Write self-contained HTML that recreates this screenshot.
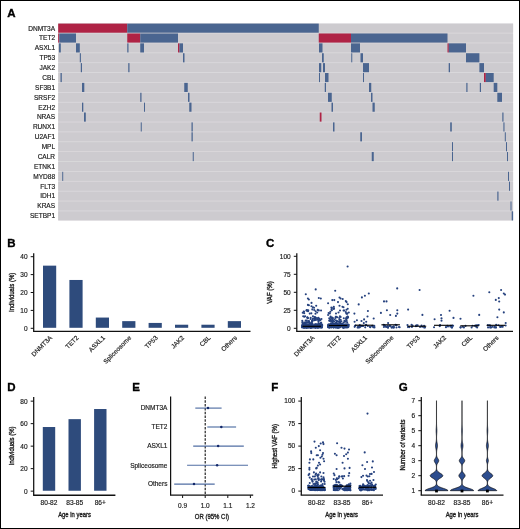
<!DOCTYPE html><html><head><meta charset="utf-8"><style>html,body{margin:0;padding:0;background:#fff;}svg{display:block;will-change:transform;}text{font-family:"Liberation Sans",sans-serif;}.t{fill:#1a1a1a;stroke:#1a1a1a;stroke-width:0.17px;}.tt{stroke-width:0.36px;}.p{fill:#000;stroke:#000;stroke-width:0.35px;font-weight:bold;font-size:11.5px;}</style></head><body>
<svg width="520" height="529" viewBox="0 0 520 529">
<rect x="0" y="0" width="520" height="529" fill="#fff"/>
<rect x="0.5" y="0.5" width="519" height="528" fill="none" stroke="#000" stroke-width="1"/>
<text x="7.3" y="16.9" class="p">A</text>
<rect x="58.2" y="23.6" width="454.90" height="196.82" fill="#dddbde"/>
<rect x="58.2" y="23.60" width="454.90" height="9.1" fill="#cdcbcf"/>
<text x="55.10" y="30.50" font-size="6.55" text-anchor="end" class="t">DNMT3A</text>
<rect x="58.2" y="33.48" width="454.90" height="9.1" fill="#cdcbcf"/>
<text x="55.10" y="40.38" font-size="6.55" text-anchor="end" class="t">TET2</text>
<rect x="58.2" y="43.36" width="454.90" height="9.1" fill="#cdcbcf"/>
<text x="55.10" y="50.26" font-size="6.55" text-anchor="end" class="t">ASXL1</text>
<rect x="58.2" y="53.24" width="454.90" height="9.1" fill="#cdcbcf"/>
<text x="55.10" y="60.14" font-size="6.55" text-anchor="end" class="t">TP53</text>
<rect x="58.2" y="63.12" width="454.90" height="9.1" fill="#cdcbcf"/>
<text x="55.10" y="70.02" font-size="6.55" text-anchor="end" class="t">JAK2</text>
<rect x="58.2" y="73.00" width="454.90" height="9.1" fill="#cdcbcf"/>
<text x="55.10" y="79.90" font-size="6.55" text-anchor="end" class="t">CBL</text>
<rect x="58.2" y="82.88" width="454.90" height="9.1" fill="#cdcbcf"/>
<text x="55.10" y="89.78" font-size="6.55" text-anchor="end" class="t">SF3B1</text>
<rect x="58.2" y="92.76" width="454.90" height="9.1" fill="#cdcbcf"/>
<text x="55.10" y="99.66" font-size="6.55" text-anchor="end" class="t">SRSF2</text>
<rect x="58.2" y="102.64" width="454.90" height="9.1" fill="#cdcbcf"/>
<text x="55.10" y="109.54" font-size="6.55" text-anchor="end" class="t">EZH2</text>
<rect x="58.2" y="112.52" width="454.90" height="9.1" fill="#cdcbcf"/>
<text x="55.10" y="119.42" font-size="6.55" text-anchor="end" class="t">NRAS</text>
<rect x="58.2" y="122.40" width="454.90" height="9.1" fill="#cdcbcf"/>
<text x="55.10" y="129.30" font-size="6.55" text-anchor="end" class="t">RUNX1</text>
<rect x="58.2" y="132.28" width="454.90" height="9.1" fill="#cdcbcf"/>
<text x="55.10" y="139.18" font-size="6.55" text-anchor="end" class="t">U2AF1</text>
<rect x="58.2" y="142.16" width="454.90" height="9.1" fill="#cdcbcf"/>
<text x="55.10" y="149.06" font-size="6.55" text-anchor="end" class="t">MPL</text>
<rect x="58.2" y="152.04" width="454.90" height="9.1" fill="#cdcbcf"/>
<text x="55.10" y="158.94" font-size="6.55" text-anchor="end" class="t">CALR</text>
<rect x="58.2" y="161.92" width="454.90" height="9.1" fill="#cdcbcf"/>
<text x="55.10" y="168.82" font-size="6.55" text-anchor="end" class="t">ETNK1</text>
<rect x="58.2" y="171.80" width="454.90" height="9.1" fill="#cdcbcf"/>
<text x="55.10" y="178.70" font-size="6.55" text-anchor="end" class="t">MYD88</text>
<rect x="58.2" y="181.68" width="454.90" height="9.1" fill="#cdcbcf"/>
<text x="55.10" y="188.58" font-size="6.55" text-anchor="end" class="t">FLT3</text>
<rect x="58.2" y="191.56" width="454.90" height="9.1" fill="#cdcbcf"/>
<text x="55.10" y="198.46" font-size="6.55" text-anchor="end" class="t">IDH1</text>
<rect x="58.2" y="201.44" width="454.90" height="9.1" fill="#cdcbcf"/>
<text x="55.10" y="208.34" font-size="6.55" text-anchor="end" class="t">KRAS</text>
<rect x="58.2" y="211.32" width="454.90" height="9.1" fill="#cdcbcf"/>
<text x="55.10" y="218.22" font-size="6.55" text-anchor="end" class="t">SETBP1</text>
<rect x="58.2" y="23.60" width="69.05" height="9.1" fill="#af2345"/>
<rect x="127.25" y="23.60" width="191.50" height="9.1" fill="#4a6590"/>
<rect x="58.2" y="33.48" width="1.10" height="9.1" fill="#af2345"/>
<rect x="59.3" y="33.48" width="16.70" height="9.1" fill="#4a6590"/>
<rect x="127.25" y="33.48" width="13.00" height="9.1" fill="#af2345"/>
<rect x="140.25" y="33.48" width="37.75" height="9.1" fill="#4a6590"/>
<rect x="318.75" y="33.48" width="32.25" height="9.1" fill="#af2345"/>
<rect x="351" y="33.48" width="96.50" height="9.1" fill="#4a6590"/>
<rect x="59.0" y="43.36" width="1.80" height="9.1" fill="#4a6590"/>
<rect x="76" y="43.36" width="3.80" height="9.1" fill="#4a6590"/>
<rect x="127.25" y="43.36" width="1.25" height="9.1" fill="#4a6590"/>
<rect x="140.25" y="43.36" width="3.75" height="9.1" fill="#4a6590"/>
<rect x="178" y="43.36" width="1.50" height="9.1" fill="#af2345"/>
<rect x="179.5" y="43.36" width="3.50" height="9.1" fill="#4a6590"/>
<rect x="319" y="43.36" width="3.50" height="9.1" fill="#4a6590"/>
<rect x="351" y="43.36" width="9.00" height="9.1" fill="#4a6590"/>
<rect x="447.5" y="43.36" width="1.30" height="9.1" fill="#af2345"/>
<rect x="448.8" y="43.36" width="17.20" height="9.1" fill="#4a6590"/>
<rect x="79.8" y="53.24" width="1.10" height="9.1" fill="#4a6590"/>
<rect x="183" y="53.24" width="1.50" height="9.1" fill="#4a6590"/>
<rect x="322" y="53.24" width="1.75" height="9.1" fill="#4a6590"/>
<rect x="351.25" y="53.24" width="1.00" height="9.1" fill="#4a6590"/>
<rect x="360.5" y="53.24" width="2.50" height="9.1" fill="#4a6590"/>
<rect x="466" y="53.24" width="13.40" height="9.1" fill="#4a6590"/>
<rect x="80.8" y="63.12" width="1.20" height="9.1" fill="#4a6590"/>
<rect x="128.25" y="63.12" width="1.25" height="9.1" fill="#4a6590"/>
<rect x="319" y="63.12" width="2.25" height="9.1" fill="#4a6590"/>
<rect x="323" y="63.12" width="2.00" height="9.1" fill="#4a6590"/>
<rect x="363" y="63.12" width="6.00" height="9.1" fill="#4a6590"/>
<rect x="448.7" y="63.12" width="1.30" height="9.1" fill="#4a6590"/>
<rect x="479.4" y="63.12" width="4.60" height="9.1" fill="#4a6590"/>
<rect x="60.5" y="73.00" width="1.30" height="9.1" fill="#4a6590"/>
<rect x="319" y="73.00" width="1.00" height="9.1" fill="#4a6590"/>
<rect x="325" y="73.00" width="3.50" height="9.1" fill="#4a6590"/>
<rect x="363" y="73.00" width="1.00" height="9.1" fill="#4a6590"/>
<rect x="484" y="73.00" width="1.80" height="9.1" fill="#af2345"/>
<rect x="485.8" y="73.00" width="7.90" height="9.1" fill="#4a6590"/>
<rect x="82" y="82.88" width="2.30" height="9.1" fill="#4a6590"/>
<rect x="184.25" y="82.88" width="3.50" height="9.1" fill="#4a6590"/>
<rect x="324.75" y="82.88" width="1.25" height="9.1" fill="#4a6590"/>
<rect x="369" y="82.88" width="2.25" height="9.1" fill="#4a6590"/>
<rect x="466.3" y="82.88" width="1.20" height="9.1" fill="#4a6590"/>
<rect x="479.8" y="82.88" width="1.20" height="9.1" fill="#4a6590"/>
<rect x="493.7" y="82.88" width="3.60" height="9.1" fill="#4a6590"/>
<rect x="140.25" y="92.76" width="1.25" height="9.1" fill="#4a6590"/>
<rect x="188" y="92.76" width="1.50" height="9.1" fill="#4a6590"/>
<rect x="328" y="92.76" width="3.75" height="9.1" fill="#4a6590"/>
<rect x="371" y="92.76" width="1.50" height="9.1" fill="#4a6590"/>
<rect x="497.3" y="92.76" width="4.70" height="9.1" fill="#4a6590"/>
<rect x="82" y="102.64" width="1.30" height="9.1" fill="#4a6590"/>
<rect x="144" y="102.64" width="1.00" height="9.1" fill="#4a6590"/>
<rect x="189.25" y="102.64" width="2.25" height="9.1" fill="#4a6590"/>
<rect x="331.5" y="102.64" width="1.50" height="9.1" fill="#4a6590"/>
<rect x="372.5" y="102.64" width="2.25" height="9.1" fill="#4a6590"/>
<rect x="84" y="112.52" width="1.80" height="9.1" fill="#4a6590"/>
<rect x="319.75" y="112.52" width="1.75" height="9.1" fill="#af2345"/>
<rect x="502.3" y="112.52" width="1.20" height="9.1" fill="#4a6590"/>
<rect x="140.75" y="122.40" width="1.00" height="9.1" fill="#4a6590"/>
<rect x="191.5" y="122.40" width="1.25" height="9.1" fill="#4a6590"/>
<rect x="333" y="122.40" width="1.50" height="9.1" fill="#4a6590"/>
<rect x="450.2" y="122.40" width="1.60" height="9.1" fill="#4a6590"/>
<rect x="503.4" y="122.40" width="1.10" height="9.1" fill="#4a6590"/>
<rect x="191.5" y="132.28" width="1.25" height="9.1" fill="#4a6590"/>
<rect x="360.25" y="132.28" width="1.75" height="9.1" fill="#4a6590"/>
<rect x="504.8" y="132.28" width="1.00" height="9.1" fill="#4a6590"/>
<rect x="452" y="142.16" width="1.00" height="9.1" fill="#4a6590"/>
<rect x="506" y="142.16" width="1.00" height="9.1" fill="#4a6590"/>
<rect x="192.75" y="152.04" width="1.00" height="9.1" fill="#4a6590"/>
<rect x="371.75" y="152.04" width="2.00" height="9.1" fill="#4a6590"/>
<rect x="452" y="152.04" width="1.00" height="9.1" fill="#4a6590"/>
<rect x="507" y="152.04" width="1.00" height="9.1" fill="#4a6590"/>
<rect x="62.25" y="171.80" width="0.95" height="9.1" fill="#4a6590"/>
<rect x="508" y="171.80" width="1.00" height="9.1" fill="#4a6590"/>
<rect x="509" y="181.68" width="1.00" height="9.1" fill="#4a6590"/>
<rect x="497.3" y="191.56" width="1.20" height="9.1" fill="#4a6590"/>
<rect x="510.5" y="201.44" width="1.00" height="9.1" fill="#4a6590"/>
<rect x="511.7" y="211.32" width="1.40" height="9.1" fill="#4a6590"/>
<text x="7.3" y="246.9" class="p">B</text>
<line x1="33.7" y1="253.2" x2="33.7" y2="331.4" stroke="#111" stroke-width="1.25"/>
<line x1="30.700000000000003" y1="328.30" x2="33.7" y2="328.30" stroke="#111" stroke-width="1"/>
<text x="27.60" y="330.65" font-size="6.5" text-anchor="end" class="t">0</text>
<line x1="30.700000000000003" y1="310.40" x2="33.7" y2="310.40" stroke="#111" stroke-width="1"/>
<text x="27.60" y="312.75" font-size="6.5" text-anchor="end" class="t">10</text>
<line x1="30.700000000000003" y1="292.50" x2="33.7" y2="292.50" stroke="#111" stroke-width="1"/>
<text x="27.60" y="294.85" font-size="6.5" text-anchor="end" class="t">20</text>
<line x1="30.700000000000003" y1="274.60" x2="33.7" y2="274.60" stroke="#111" stroke-width="1"/>
<text x="27.60" y="276.95" font-size="6.5" text-anchor="end" class="t">30</text>
<line x1="30.700000000000003" y1="256.70" x2="33.7" y2="256.70" stroke="#111" stroke-width="1"/>
<text x="27.60" y="259.05" font-size="6.5" text-anchor="end" class="t">40</text>
<line x1="33.1" y1="331.4" x2="250.5" y2="331.4" stroke="#111" stroke-width="1.3"/>
<text x="0" y="0" font-size="7.8" text-anchor="middle" class="t tt" transform="translate(13.5,292.4) rotate(-90)" textLength="39.2" lengthAdjust="spacingAndGlyphs">Individuals (%)</text>
<rect x="43.00" y="265.65" width="13.2" height="62.15" fill="#2e4b7c"/>
<rect x="69.40" y="279.97" width="13.2" height="47.83" fill="#2e4b7c"/>
<rect x="95.80" y="317.56" width="13.2" height="10.24" fill="#2e4b7c"/>
<rect x="122.20" y="321.14" width="13.2" height="6.66" fill="#2e4b7c"/>
<rect x="148.60" y="322.93" width="13.2" height="4.87" fill="#2e4b7c"/>
<rect x="175.00" y="324.72" width="13.2" height="3.08" fill="#2e4b7c"/>
<rect x="201.40" y="324.72" width="13.2" height="3.08" fill="#2e4b7c"/>
<rect x="227.80" y="321.14" width="13.2" height="6.66" fill="#2e4b7c"/>
<text x="0" y="0" font-size="6.4" text-anchor="end" class="t" transform="translate(52.60,338.3) rotate(-45)">DNMT3A</text>
<text x="0" y="0" font-size="6.4" text-anchor="end" class="t" transform="translate(79.00,338.3) rotate(-45)">TET2</text>
<text x="0" y="0" font-size="6.4" text-anchor="end" class="t" transform="translate(105.40,338.3) rotate(-45)">ASXL1</text>
<text x="0" y="0" font-size="6.4" text-anchor="end" class="t" transform="translate(131.80,338.3) rotate(-45)">Spliceosome</text>
<text x="0" y="0" font-size="6.4" text-anchor="end" class="t" transform="translate(158.20,338.3) rotate(-45)">TP53</text>
<text x="0" y="0" font-size="6.4" text-anchor="end" class="t" transform="translate(184.60,338.3) rotate(-45)">JAK2</text>
<text x="0" y="0" font-size="6.4" text-anchor="end" class="t" transform="translate(211.00,338.3) rotate(-45)">CBL</text>
<text x="0" y="0" font-size="6.4" text-anchor="end" class="t" transform="translate(237.40,338.3) rotate(-45)">Others</text>
<text x="265.9" y="246.9" class="p">C</text>
<line x1="296.8" y1="253.2" x2="296.8" y2="331.4" stroke="#111" stroke-width="1.25"/>
<line x1="293.8" y1="328.30" x2="296.8" y2="328.30" stroke="#111" stroke-width="1"/>
<text x="290.70" y="330.65" font-size="6.5" text-anchor="end" class="t">0</text>
<line x1="293.8" y1="310.30" x2="296.8" y2="310.30" stroke="#111" stroke-width="1"/>
<text x="290.70" y="312.65" font-size="6.5" text-anchor="end" class="t">25</text>
<line x1="293.8" y1="292.30" x2="296.8" y2="292.30" stroke="#111" stroke-width="1"/>
<text x="290.70" y="294.65" font-size="6.5" text-anchor="end" class="t">50</text>
<line x1="293.8" y1="274.30" x2="296.8" y2="274.30" stroke="#111" stroke-width="1"/>
<text x="290.70" y="276.65" font-size="6.5" text-anchor="end" class="t">75</text>
<line x1="293.8" y1="256.30" x2="296.8" y2="256.30" stroke="#111" stroke-width="1"/>
<text x="290.70" y="258.65" font-size="6.5" text-anchor="end" class="t">100</text>
<line x1="296.2" y1="331.4" x2="513" y2="331.4" stroke="#111" stroke-width="1.3"/>
<text x="0" y="0" font-size="7.8" text-anchor="middle" class="t tt" transform="translate(272.3,292.5) rotate(-90)" textLength="22.5" lengthAdjust="spacingAndGlyphs">VAF (%)</text>
<text x="0" y="0" font-size="6.4" text-anchor="end" class="t" transform="translate(315.00,338.3) rotate(-45)">DNMT3A</text>
<text x="0" y="0" font-size="6.4" text-anchor="end" class="t" transform="translate(341.30,338.3) rotate(-45)">TET2</text>
<text x="0" y="0" font-size="6.4" text-anchor="end" class="t" transform="translate(367.60,338.3) rotate(-45)">ASXL1</text>
<text x="0" y="0" font-size="6.4" text-anchor="end" class="t" transform="translate(393.90,338.3) rotate(-45)">Spliceosome</text>
<text x="0" y="0" font-size="6.4" text-anchor="end" class="t" transform="translate(420.20,338.3) rotate(-45)">TP53</text>
<text x="0" y="0" font-size="6.4" text-anchor="end" class="t" transform="translate(446.50,338.3) rotate(-45)">JAK2</text>
<text x="0" y="0" font-size="6.4" text-anchor="end" class="t" transform="translate(472.80,338.3) rotate(-45)">CBL</text>
<text x="0" y="0" font-size="6.4" text-anchor="end" class="t" transform="translate(499.10,338.3) rotate(-45)">Others</text>
<circle cx="315.70" cy="289.40" r="1.05" fill="#25417e"/>
<circle cx="305.80" cy="294.30" r="1.05" fill="#25417e"/>
<circle cx="307.90" cy="298.50" r="1.05" fill="#25417e"/>
<circle cx="308.90" cy="299.50" r="1.05" fill="#25417e"/>
<circle cx="318.80" cy="298.00" r="1.05" fill="#25417e"/>
<circle cx="320.80" cy="298.50" r="1.05" fill="#25417e"/>
<circle cx="311.50" cy="302.90" r="1.05" fill="#25417e"/>
<circle cx="307.90" cy="304.90" r="1.05" fill="#25417e"/>
<circle cx="308.90" cy="305.20" r="1.05" fill="#25417e"/>
<circle cx="316.20" cy="305.80" r="1.05" fill="#25417e"/>
<circle cx="311.50" cy="306.30" r="1.05" fill="#25417e"/>
<circle cx="313.00" cy="307.30" r="1.05" fill="#25417e"/>
<circle cx="314.10" cy="307.80" r="1.05" fill="#25417e"/>
<circle cx="312.30" cy="309.40" r="1.05" fill="#25417e"/>
<circle cx="306.80" cy="310.10" r="1.05" fill="#25417e"/>
<circle cx="317.70" cy="309.90" r="1.05" fill="#25417e"/>
<circle cx="318.80" cy="310.40" r="1.05" fill="#25417e"/>
<circle cx="317.20" cy="312.50" r="1.05" fill="#25417e"/>
<circle cx="304.20" cy="313.20" r="1.05" fill="#25417e"/>
<circle cx="303.20" cy="316.20" r="1.05" fill="#25417e"/>
<circle cx="347.60" cy="266.50" r="1.05" fill="#25417e"/>
<circle cx="335.20" cy="290.70" r="1.05" fill="#25417e"/>
<circle cx="328.10" cy="303.20" r="1.05" fill="#25417e"/>
<circle cx="332.30" cy="300.10" r="1.05" fill="#25417e"/>
<circle cx="334.30" cy="300.10" r="1.05" fill="#25417e"/>
<circle cx="338.00" cy="302.10" r="1.05" fill="#25417e"/>
<circle cx="339.50" cy="297.50" r="1.05" fill="#25417e"/>
<circle cx="340.60" cy="298.50" r="1.05" fill="#25417e"/>
<circle cx="342.70" cy="299.00" r="1.05" fill="#25417e"/>
<circle cx="345.80" cy="301.10" r="1.05" fill="#25417e"/>
<circle cx="346.60" cy="302.10" r="1.05" fill="#25417e"/>
<circle cx="347.80" cy="304.20" r="1.05" fill="#25417e"/>
<circle cx="333.80" cy="306.80" r="1.05" fill="#25417e"/>
<circle cx="333.80" cy="308.90" r="1.05" fill="#25417e"/>
<circle cx="339.50" cy="305.80" r="1.05" fill="#25417e"/>
<circle cx="342.50" cy="306.80" r="1.05" fill="#25417e"/>
<circle cx="343.50" cy="307.30" r="1.05" fill="#25417e"/>
<circle cx="340.00" cy="310.50" r="1.05" fill="#25417e"/>
<circle cx="338.50" cy="312.50" r="1.05" fill="#25417e"/>
<circle cx="328.60" cy="313.00" r="1.05" fill="#25417e"/>
<circle cx="328.10" cy="315.00" r="1.05" fill="#25417e"/>
<circle cx="345.80" cy="312.00" r="1.05" fill="#25417e"/>
<circle cx="347.30" cy="313.50" r="1.05" fill="#25417e"/>
<circle cx="348.80" cy="312.50" r="1.05" fill="#25417e"/>
<circle cx="368.80" cy="293.50" r="1.05" fill="#25417e"/>
<circle cx="364.90" cy="295.80" r="1.05" fill="#25417e"/>
<circle cx="361.90" cy="297.40" r="1.05" fill="#25417e"/>
<circle cx="358.70" cy="304.40" r="1.05" fill="#25417e"/>
<circle cx="354.40" cy="313.60" r="1.05" fill="#25417e"/>
<circle cx="367.90" cy="311.00" r="1.05" fill="#25417e"/>
<circle cx="367.50" cy="316.50" r="1.05" fill="#25417e"/>
<circle cx="373.70" cy="318.50" r="1.05" fill="#25417e"/>
<circle cx="356.90" cy="320.20" r="1.05" fill="#25417e"/>
<circle cx="354.60" cy="321.70" r="1.05" fill="#25417e"/>
<circle cx="361.50" cy="321.00" r="1.05" fill="#25417e"/>
<circle cx="364.10" cy="319.40" r="1.05" fill="#25417e"/>
<circle cx="366.20" cy="321.70" r="1.05" fill="#25417e"/>
<circle cx="363.80" cy="323.10" r="1.05" fill="#25417e"/>
<circle cx="397.20" cy="288.40" r="1.05" fill="#25417e"/>
<circle cx="384.00" cy="301.40" r="1.05" fill="#25417e"/>
<circle cx="386.50" cy="301.40" r="1.05" fill="#25417e"/>
<circle cx="380.90" cy="312.90" r="1.05" fill="#25417e"/>
<circle cx="386.90" cy="310.20" r="1.05" fill="#25417e"/>
<circle cx="390.20" cy="315.00" r="1.05" fill="#25417e"/>
<circle cx="397.30" cy="310.20" r="1.05" fill="#25417e"/>
<circle cx="397.30" cy="313.60" r="1.05" fill="#25417e"/>
<circle cx="395.90" cy="315.90" r="1.05" fill="#25417e"/>
<circle cx="388.10" cy="323.10" r="1.05" fill="#25417e"/>
<circle cx="408.10" cy="309.60" r="1.05" fill="#25417e"/>
<circle cx="419.60" cy="290.00" r="1.05" fill="#25417e"/>
<circle cx="422.40" cy="314.90" r="1.05" fill="#25417e"/>
<circle cx="434.60" cy="319.30" r="1.05" fill="#25417e"/>
<circle cx="441.00" cy="315.00" r="1.05" fill="#25417e"/>
<circle cx="441.50" cy="318.40" r="1.05" fill="#25417e"/>
<circle cx="441.50" cy="320.70" r="1.05" fill="#25417e"/>
<circle cx="449.60" cy="310.80" r="1.05" fill="#25417e"/>
<circle cx="453.50" cy="317.90" r="1.05" fill="#25417e"/>
<circle cx="460.50" cy="318.80" r="1.05" fill="#25417e"/>
<circle cx="473.40" cy="295.80" r="1.05" fill="#25417e"/>
<circle cx="479.20" cy="314.90" r="1.05" fill="#25417e"/>
<circle cx="489.30" cy="292.30" r="1.05" fill="#25417e"/>
<circle cx="501.10" cy="290.00" r="1.05" fill="#25417e"/>
<circle cx="503.80" cy="293.50" r="1.05" fill="#25417e"/>
<circle cx="505.00" cy="294.60" r="1.05" fill="#25417e"/>
<circle cx="495.80" cy="299.90" r="1.05" fill="#25417e"/>
<circle cx="498.80" cy="298.10" r="1.05" fill="#25417e"/>
<circle cx="499.20" cy="301.50" r="1.05" fill="#25417e"/>
<circle cx="499.20" cy="309.60" r="1.05" fill="#25417e"/>
<circle cx="503.80" cy="312.40" r="1.05" fill="#25417e"/>
<circle cx="497.40" cy="317.20" r="1.05" fill="#25417e"/>
<circle cx="505.70" cy="323.00" r="1.05" fill="#25417e"/>
<circle cx="304.81" cy="326.83" r="1.05" fill="#25417e"/>
<circle cx="303.19" cy="325.73" r="1.05" fill="#25417e"/>
<circle cx="309.23" cy="326.14" r="1.05" fill="#25417e"/>
<circle cx="312.15" cy="327.50" r="1.05" fill="#25417e"/>
<circle cx="310.63" cy="327.53" r="1.05" fill="#25417e"/>
<circle cx="303.57" cy="327.48" r="1.05" fill="#25417e"/>
<circle cx="318.73" cy="326.52" r="1.05" fill="#25417e"/>
<circle cx="306.30" cy="327.37" r="1.05" fill="#25417e"/>
<circle cx="321.22" cy="325.81" r="1.05" fill="#25417e"/>
<circle cx="309.87" cy="325.99" r="1.05" fill="#25417e"/>
<circle cx="302.66" cy="324.44" r="1.05" fill="#25417e"/>
<circle cx="307.67" cy="324.92" r="1.05" fill="#25417e"/>
<circle cx="304.13" cy="327.32" r="1.05" fill="#25417e"/>
<circle cx="318.51" cy="326.88" r="1.05" fill="#25417e"/>
<circle cx="313.68" cy="327.23" r="1.05" fill="#25417e"/>
<circle cx="309.37" cy="325.77" r="1.05" fill="#25417e"/>
<circle cx="302.99" cy="326.10" r="1.05" fill="#25417e"/>
<circle cx="305.94" cy="327.50" r="1.05" fill="#25417e"/>
<circle cx="310.51" cy="325.62" r="1.05" fill="#25417e"/>
<circle cx="313.76" cy="326.86" r="1.05" fill="#25417e"/>
<circle cx="307.88" cy="326.42" r="1.05" fill="#25417e"/>
<circle cx="316.10" cy="325.18" r="1.05" fill="#25417e"/>
<circle cx="313.53" cy="327.06" r="1.05" fill="#25417e"/>
<circle cx="319.73" cy="326.18" r="1.05" fill="#25417e"/>
<circle cx="307.63" cy="325.43" r="1.05" fill="#25417e"/>
<circle cx="304.13" cy="324.42" r="1.05" fill="#25417e"/>
<circle cx="317.30" cy="326.54" r="1.05" fill="#25417e"/>
<circle cx="311.77" cy="327.30" r="1.05" fill="#25417e"/>
<circle cx="315.47" cy="327.53" r="1.05" fill="#25417e"/>
<circle cx="313.50" cy="325.29" r="1.05" fill="#25417e"/>
<circle cx="308.16" cy="324.85" r="1.05" fill="#25417e"/>
<circle cx="313.94" cy="325.56" r="1.05" fill="#25417e"/>
<circle cx="311.10" cy="325.98" r="1.05" fill="#25417e"/>
<circle cx="321.16" cy="325.00" r="1.05" fill="#25417e"/>
<circle cx="315.38" cy="326.35" r="1.05" fill="#25417e"/>
<circle cx="316.15" cy="327.50" r="1.05" fill="#25417e"/>
<circle cx="322.16" cy="325.74" r="1.05" fill="#25417e"/>
<circle cx="307.56" cy="325.07" r="1.05" fill="#25417e"/>
<circle cx="315.47" cy="326.64" r="1.05" fill="#25417e"/>
<circle cx="311.21" cy="327.56" r="1.05" fill="#25417e"/>
<circle cx="304.11" cy="327.26" r="1.05" fill="#25417e"/>
<circle cx="317.53" cy="327.50" r="1.05" fill="#25417e"/>
<circle cx="306.80" cy="327.35" r="1.05" fill="#25417e"/>
<circle cx="319.65" cy="326.62" r="1.05" fill="#25417e"/>
<circle cx="310.95" cy="327.46" r="1.05" fill="#25417e"/>
<circle cx="319.90" cy="326.09" r="1.05" fill="#25417e"/>
<circle cx="319.50" cy="325.08" r="1.05" fill="#25417e"/>
<circle cx="310.26" cy="326.97" r="1.05" fill="#25417e"/>
<circle cx="319.91" cy="326.73" r="1.05" fill="#25417e"/>
<circle cx="304.81" cy="324.52" r="1.05" fill="#25417e"/>
<circle cx="306.48" cy="327.24" r="1.05" fill="#25417e"/>
<circle cx="311.69" cy="327.09" r="1.05" fill="#25417e"/>
<circle cx="307.11" cy="325.95" r="1.05" fill="#25417e"/>
<circle cx="310.33" cy="327.58" r="1.05" fill="#25417e"/>
<circle cx="313.37" cy="326.69" r="1.05" fill="#25417e"/>
<circle cx="315.92" cy="324.54" r="1.05" fill="#25417e"/>
<circle cx="314.42" cy="326.21" r="1.05" fill="#25417e"/>
<circle cx="302.81" cy="325.63" r="1.05" fill="#25417e"/>
<circle cx="317.77" cy="324.76" r="1.05" fill="#25417e"/>
<circle cx="318.14" cy="324.86" r="1.05" fill="#25417e"/>
<circle cx="309.92" cy="326.62" r="1.05" fill="#25417e"/>
<circle cx="314.77" cy="327.41" r="1.05" fill="#25417e"/>
<circle cx="303.09" cy="327.49" r="1.05" fill="#25417e"/>
<circle cx="305.04" cy="327.16" r="1.05" fill="#25417e"/>
<circle cx="302.78" cy="326.78" r="1.05" fill="#25417e"/>
<circle cx="304.82" cy="327.58" r="1.05" fill="#25417e"/>
<circle cx="309.19" cy="327.41" r="1.05" fill="#25417e"/>
<circle cx="319.71" cy="327.55" r="1.05" fill="#25417e"/>
<circle cx="304.76" cy="325.86" r="1.05" fill="#25417e"/>
<circle cx="308.86" cy="327.04" r="1.05" fill="#25417e"/>
<circle cx="304.23" cy="326.71" r="1.05" fill="#25417e"/>
<circle cx="322.16" cy="324.96" r="1.05" fill="#25417e"/>
<circle cx="311.67" cy="326.38" r="1.05" fill="#25417e"/>
<circle cx="303.81" cy="327.45" r="1.05" fill="#25417e"/>
<circle cx="307.15" cy="326.77" r="1.05" fill="#25417e"/>
<circle cx="305.03" cy="325.04" r="1.05" fill="#25417e"/>
<circle cx="321.29" cy="327.56" r="1.05" fill="#25417e"/>
<circle cx="304.72" cy="326.17" r="1.05" fill="#25417e"/>
<circle cx="302.26" cy="326.11" r="1.05" fill="#25417e"/>
<circle cx="321.86" cy="326.17" r="1.05" fill="#25417e"/>
<circle cx="316.04" cy="324.90" r="1.05" fill="#25417e"/>
<circle cx="309.25" cy="327.01" r="1.05" fill="#25417e"/>
<circle cx="317.60" cy="327.26" r="1.05" fill="#25417e"/>
<circle cx="317.75" cy="326.15" r="1.05" fill="#25417e"/>
<circle cx="306.29" cy="326.81" r="1.05" fill="#25417e"/>
<circle cx="321.99" cy="325.11" r="1.05" fill="#25417e"/>
<circle cx="318.31" cy="324.95" r="1.05" fill="#25417e"/>
<circle cx="316.94" cy="325.08" r="1.05" fill="#25417e"/>
<circle cx="312.36" cy="327.11" r="1.05" fill="#25417e"/>
<circle cx="302.30" cy="326.74" r="1.05" fill="#25417e"/>
<circle cx="307.46" cy="327.55" r="1.05" fill="#25417e"/>
<circle cx="315.97" cy="327.02" r="1.05" fill="#25417e"/>
<circle cx="310.91" cy="324.52" r="1.05" fill="#25417e"/>
<circle cx="322.05" cy="324.60" r="1.05" fill="#25417e"/>
<circle cx="309.21" cy="324.53" r="1.05" fill="#25417e"/>
<circle cx="306.37" cy="327.13" r="1.05" fill="#25417e"/>
<circle cx="305.91" cy="327.19" r="1.05" fill="#25417e"/>
<circle cx="320.25" cy="325.82" r="1.05" fill="#25417e"/>
<circle cx="311.58" cy="325.00" r="1.05" fill="#25417e"/>
<circle cx="318.17" cy="325.72" r="1.05" fill="#25417e"/>
<circle cx="315.31" cy="327.45" r="1.05" fill="#25417e"/>
<circle cx="317.82" cy="324.71" r="1.05" fill="#25417e"/>
<circle cx="311.55" cy="325.35" r="1.05" fill="#25417e"/>
<circle cx="317.96" cy="327.24" r="1.05" fill="#25417e"/>
<circle cx="318.20" cy="326.81" r="1.05" fill="#25417e"/>
<circle cx="309.85" cy="324.46" r="1.05" fill="#25417e"/>
<circle cx="321.20" cy="326.59" r="1.05" fill="#25417e"/>
<circle cx="305.20" cy="325.45" r="1.05" fill="#25417e"/>
<circle cx="304.81" cy="327.36" r="1.05" fill="#25417e"/>
<circle cx="318.31" cy="324.73" r="1.05" fill="#25417e"/>
<circle cx="318.73" cy="327.31" r="1.05" fill="#25417e"/>
<circle cx="315.24" cy="324.42" r="1.05" fill="#25417e"/>
<circle cx="313.00" cy="326.75" r="1.05" fill="#25417e"/>
<circle cx="301.99" cy="327.35" r="1.05" fill="#25417e"/>
<circle cx="315.08" cy="324.46" r="1.05" fill="#25417e"/>
<circle cx="320.93" cy="326.17" r="1.05" fill="#25417e"/>
<circle cx="319.66" cy="326.49" r="1.05" fill="#25417e"/>
<circle cx="306.05" cy="325.05" r="1.05" fill="#25417e"/>
<circle cx="307.74" cy="327.04" r="1.05" fill="#25417e"/>
<circle cx="313.78" cy="327.07" r="1.05" fill="#25417e"/>
<circle cx="310.33" cy="327.02" r="1.05" fill="#25417e"/>
<circle cx="320.45" cy="327.35" r="1.05" fill="#25417e"/>
<circle cx="311.14" cy="326.74" r="1.05" fill="#25417e"/>
<circle cx="320.33" cy="325.97" r="1.05" fill="#25417e"/>
<circle cx="320.61" cy="326.53" r="1.05" fill="#25417e"/>
<circle cx="312.66" cy="326.26" r="1.05" fill="#25417e"/>
<circle cx="302.09" cy="326.18" r="1.05" fill="#25417e"/>
<circle cx="305.47" cy="326.47" r="1.05" fill="#25417e"/>
<circle cx="318.16" cy="327.58" r="1.05" fill="#25417e"/>
<circle cx="311.45" cy="327.25" r="1.05" fill="#25417e"/>
<circle cx="313.16" cy="325.45" r="1.05" fill="#25417e"/>
<circle cx="312.38" cy="326.83" r="1.05" fill="#25417e"/>
<circle cx="317.86" cy="326.07" r="1.05" fill="#25417e"/>
<circle cx="313.24" cy="327.40" r="1.05" fill="#25417e"/>
<circle cx="307.40" cy="327.05" r="1.05" fill="#25417e"/>
<circle cx="312.16" cy="325.26" r="1.05" fill="#25417e"/>
<circle cx="317.36" cy="326.05" r="1.05" fill="#25417e"/>
<circle cx="310.83" cy="324.70" r="1.05" fill="#25417e"/>
<circle cx="312.11" cy="325.87" r="1.05" fill="#25417e"/>
<circle cx="315.97" cy="326.22" r="1.05" fill="#25417e"/>
<circle cx="312.69" cy="326.42" r="1.05" fill="#25417e"/>
<circle cx="321.09" cy="326.34" r="1.05" fill="#25417e"/>
<circle cx="319.76" cy="325.55" r="1.05" fill="#25417e"/>
<circle cx="307.05" cy="324.58" r="1.05" fill="#25417e"/>
<circle cx="321.13" cy="326.06" r="1.05" fill="#25417e"/>
<circle cx="304.52" cy="325.00" r="1.05" fill="#25417e"/>
<circle cx="310.81" cy="327.37" r="1.05" fill="#25417e"/>
<circle cx="306.66" cy="327.47" r="1.05" fill="#25417e"/>
<circle cx="315.49" cy="327.47" r="1.05" fill="#25417e"/>
<circle cx="320.18" cy="325.22" r="1.05" fill="#25417e"/>
<circle cx="316.45" cy="327.29" r="1.05" fill="#25417e"/>
<circle cx="304.65" cy="325.69" r="1.05" fill="#25417e"/>
<circle cx="321.63" cy="324.82" r="1.05" fill="#25417e"/>
<circle cx="321.32" cy="327.13" r="1.05" fill="#25417e"/>
<circle cx="311.74" cy="326.60" r="1.05" fill="#25417e"/>
<circle cx="318.85" cy="324.38" r="1.05" fill="#25417e"/>
<circle cx="310.59" cy="327.28" r="1.05" fill="#25417e"/>
<circle cx="308.69" cy="326.21" r="1.05" fill="#25417e"/>
<circle cx="308.26" cy="327.19" r="1.05" fill="#25417e"/>
<circle cx="302.10" cy="325.46" r="1.05" fill="#25417e"/>
<circle cx="310.77" cy="326.08" r="1.05" fill="#25417e"/>
<circle cx="308.53" cy="327.56" r="1.05" fill="#25417e"/>
<circle cx="312.25" cy="325.83" r="1.05" fill="#25417e"/>
<circle cx="321.99" cy="327.49" r="1.05" fill="#25417e"/>
<circle cx="321.72" cy="325.20" r="1.05" fill="#25417e"/>
<circle cx="307.17" cy="327.41" r="1.05" fill="#25417e"/>
<circle cx="317.75" cy="327.53" r="1.05" fill="#25417e"/>
<circle cx="304.37" cy="326.99" r="1.05" fill="#25417e"/>
<circle cx="320.48" cy="326.52" r="1.05" fill="#25417e"/>
<circle cx="307.03" cy="325.08" r="1.05" fill="#25417e"/>
<circle cx="320.22" cy="323.63" r="1.05" fill="#25417e"/>
<circle cx="315.93" cy="320.04" r="1.05" fill="#25417e"/>
<circle cx="303.33" cy="324.09" r="1.05" fill="#25417e"/>
<circle cx="310.54" cy="318.97" r="1.05" fill="#25417e"/>
<circle cx="320.59" cy="324.22" r="1.05" fill="#25417e"/>
<circle cx="317.91" cy="319.46" r="1.05" fill="#25417e"/>
<circle cx="318.98" cy="324.14" r="1.05" fill="#25417e"/>
<circle cx="319.11" cy="324.26" r="1.05" fill="#25417e"/>
<circle cx="308.85" cy="321.08" r="1.05" fill="#25417e"/>
<circle cx="320.36" cy="320.20" r="1.05" fill="#25417e"/>
<circle cx="304.73" cy="322.67" r="1.05" fill="#25417e"/>
<circle cx="306.87" cy="320.43" r="1.05" fill="#25417e"/>
<circle cx="305.36" cy="323.94" r="1.05" fill="#25417e"/>
<circle cx="306.15" cy="324.38" r="1.05" fill="#25417e"/>
<circle cx="308.18" cy="322.30" r="1.05" fill="#25417e"/>
<circle cx="307.88" cy="318.32" r="1.05" fill="#25417e"/>
<circle cx="305.69" cy="320.67" r="1.05" fill="#25417e"/>
<circle cx="302.56" cy="322.00" r="1.05" fill="#25417e"/>
<circle cx="302.50" cy="322.82" r="1.05" fill="#25417e"/>
<circle cx="313.00" cy="318.56" r="1.05" fill="#25417e"/>
<circle cx="311.51" cy="323.31" r="1.05" fill="#25417e"/>
<circle cx="304.28" cy="316.68" r="1.05" fill="#25417e"/>
<circle cx="310.67" cy="317.76" r="1.05" fill="#25417e"/>
<circle cx="318.56" cy="320.71" r="1.05" fill="#25417e"/>
<circle cx="312.13" cy="321.61" r="1.05" fill="#25417e"/>
<circle cx="321.46" cy="318.98" r="1.05" fill="#25417e"/>
<circle cx="318.51" cy="322.04" r="1.05" fill="#25417e"/>
<circle cx="314.67" cy="318.80" r="1.05" fill="#25417e"/>
<circle cx="309.01" cy="321.51" r="1.05" fill="#25417e"/>
<circle cx="304.74" cy="324.35" r="1.05" fill="#25417e"/>
<circle cx="316.72" cy="324.23" r="1.05" fill="#25417e"/>
<circle cx="305.40" cy="322.77" r="1.05" fill="#25417e"/>
<circle cx="318.69" cy="324.13" r="1.05" fill="#25417e"/>
<circle cx="315.34" cy="317.28" r="1.05" fill="#25417e"/>
<circle cx="306.95" cy="322.55" r="1.05" fill="#25417e"/>
<circle cx="311.21" cy="322.46" r="1.05" fill="#25417e"/>
<circle cx="310.94" cy="323.57" r="1.05" fill="#25417e"/>
<circle cx="321.05" cy="322.71" r="1.05" fill="#25417e"/>
<circle cx="312.92" cy="316.32" r="1.05" fill="#25417e"/>
<circle cx="321.13" cy="322.87" r="1.05" fill="#25417e"/>
<circle cx="309.19" cy="322.32" r="1.05" fill="#25417e"/>
<circle cx="309.68" cy="324.70" r="1.05" fill="#25417e"/>
<circle cx="312.05" cy="320.89" r="1.05" fill="#25417e"/>
<circle cx="312.09" cy="323.22" r="1.05" fill="#25417e"/>
<circle cx="307.38" cy="324.67" r="1.05" fill="#25417e"/>
<circle cx="310.03" cy="324.09" r="1.05" fill="#25417e"/>
<circle cx="302.64" cy="324.44" r="1.05" fill="#25417e"/>
<circle cx="306.76" cy="322.37" r="1.05" fill="#25417e"/>
<circle cx="312.57" cy="319.90" r="1.05" fill="#25417e"/>
<circle cx="315.09" cy="318.40" r="1.05" fill="#25417e"/>
<circle cx="319.43" cy="318.72" r="1.05" fill="#25417e"/>
<circle cx="308.59" cy="321.64" r="1.05" fill="#25417e"/>
<circle cx="305.13" cy="316.21" r="1.05" fill="#25417e"/>
<circle cx="314.81" cy="318.64" r="1.05" fill="#25417e"/>
<circle cx="318.57" cy="324.42" r="1.05" fill="#25417e"/>
<circle cx="314.50" cy="317.08" r="1.05" fill="#25417e"/>
<circle cx="318.12" cy="318.55" r="1.05" fill="#25417e"/>
<circle cx="312.47" cy="323.71" r="1.05" fill="#25417e"/>
<circle cx="318.56" cy="320.63" r="1.05" fill="#25417e"/>
<circle cx="318.40" cy="317.90" r="1.05" fill="#25417e"/>
<circle cx="319.70" cy="319.92" r="1.05" fill="#25417e"/>
<circle cx="315.79" cy="319.02" r="1.05" fill="#25417e"/>
<circle cx="302.81" cy="322.98" r="1.05" fill="#25417e"/>
<circle cx="309.27" cy="323.76" r="1.05" fill="#25417e"/>
<circle cx="318.58" cy="323.98" r="1.05" fill="#25417e"/>
<circle cx="314.50" cy="320.15" r="1.05" fill="#25417e"/>
<circle cx="315.54" cy="319.54" r="1.05" fill="#25417e"/>
<circle cx="302.26" cy="320.76" r="1.05" fill="#25417e"/>
<circle cx="316.87" cy="317.96" r="1.05" fill="#25417e"/>
<circle cx="312.69" cy="320.64" r="1.05" fill="#25417e"/>
<circle cx="303.75" cy="311.52" r="1.05" fill="#25417e"/>
<circle cx="307.29" cy="310.48" r="1.05" fill="#25417e"/>
<circle cx="307.55" cy="317.83" r="1.05" fill="#25417e"/>
<circle cx="306.40" cy="310.58" r="1.05" fill="#25417e"/>
<circle cx="321.04" cy="310.43" r="1.05" fill="#25417e"/>
<circle cx="309.77" cy="313.61" r="1.05" fill="#25417e"/>
<circle cx="315.49" cy="313.80" r="1.05" fill="#25417e"/>
<circle cx="314.22" cy="310.06" r="1.05" fill="#25417e"/>
<circle cx="303.97" cy="311.73" r="1.05" fill="#25417e"/>
<circle cx="307.32" cy="317.26" r="1.05" fill="#25417e"/>
<circle cx="308.28" cy="310.39" r="1.05" fill="#25417e"/>
<circle cx="302.74" cy="312.70" r="1.05" fill="#25417e"/>
<circle cx="307.61" cy="317.92" r="1.05" fill="#25417e"/>
<circle cx="315.65" cy="311.35" r="1.05" fill="#25417e"/>
<circle cx="308.03" cy="311.30" r="1.05" fill="#25417e"/>
<circle cx="311.33" cy="313.34" r="1.05" fill="#25417e"/>
<circle cx="330.44" cy="326.38" r="1.05" fill="#25417e"/>
<circle cx="332.10" cy="324.78" r="1.05" fill="#25417e"/>
<circle cx="347.29" cy="324.43" r="1.05" fill="#25417e"/>
<circle cx="337.45" cy="327.56" r="1.05" fill="#25417e"/>
<circle cx="347.94" cy="325.08" r="1.05" fill="#25417e"/>
<circle cx="333.53" cy="326.43" r="1.05" fill="#25417e"/>
<circle cx="347.48" cy="327.15" r="1.05" fill="#25417e"/>
<circle cx="339.98" cy="327.15" r="1.05" fill="#25417e"/>
<circle cx="338.80" cy="327.32" r="1.05" fill="#25417e"/>
<circle cx="330.73" cy="324.54" r="1.05" fill="#25417e"/>
<circle cx="338.48" cy="325.08" r="1.05" fill="#25417e"/>
<circle cx="342.49" cy="324.81" r="1.05" fill="#25417e"/>
<circle cx="346.49" cy="327.10" r="1.05" fill="#25417e"/>
<circle cx="328.51" cy="326.31" r="1.05" fill="#25417e"/>
<circle cx="338.13" cy="327.58" r="1.05" fill="#25417e"/>
<circle cx="334.22" cy="326.43" r="1.05" fill="#25417e"/>
<circle cx="335.09" cy="327.33" r="1.05" fill="#25417e"/>
<circle cx="345.31" cy="326.86" r="1.05" fill="#25417e"/>
<circle cx="343.47" cy="327.58" r="1.05" fill="#25417e"/>
<circle cx="330.47" cy="325.00" r="1.05" fill="#25417e"/>
<circle cx="342.69" cy="324.65" r="1.05" fill="#25417e"/>
<circle cx="333.97" cy="324.75" r="1.05" fill="#25417e"/>
<circle cx="336.09" cy="326.68" r="1.05" fill="#25417e"/>
<circle cx="340.14" cy="324.35" r="1.05" fill="#25417e"/>
<circle cx="336.82" cy="326.72" r="1.05" fill="#25417e"/>
<circle cx="328.99" cy="326.97" r="1.05" fill="#25417e"/>
<circle cx="345.19" cy="327.41" r="1.05" fill="#25417e"/>
<circle cx="347.27" cy="326.94" r="1.05" fill="#25417e"/>
<circle cx="333.47" cy="327.05" r="1.05" fill="#25417e"/>
<circle cx="331.91" cy="326.23" r="1.05" fill="#25417e"/>
<circle cx="347.70" cy="326.68" r="1.05" fill="#25417e"/>
<circle cx="344.73" cy="324.82" r="1.05" fill="#25417e"/>
<circle cx="346.82" cy="325.80" r="1.05" fill="#25417e"/>
<circle cx="339.31" cy="324.59" r="1.05" fill="#25417e"/>
<circle cx="329.02" cy="325.47" r="1.05" fill="#25417e"/>
<circle cx="337.29" cy="325.42" r="1.05" fill="#25417e"/>
<circle cx="341.28" cy="325.34" r="1.05" fill="#25417e"/>
<circle cx="329.01" cy="326.94" r="1.05" fill="#25417e"/>
<circle cx="330.62" cy="324.64" r="1.05" fill="#25417e"/>
<circle cx="335.08" cy="326.36" r="1.05" fill="#25417e"/>
<circle cx="343.22" cy="326.91" r="1.05" fill="#25417e"/>
<circle cx="333.36" cy="324.44" r="1.05" fill="#25417e"/>
<circle cx="334.20" cy="325.71" r="1.05" fill="#25417e"/>
<circle cx="336.12" cy="326.06" r="1.05" fill="#25417e"/>
<circle cx="331.33" cy="327.26" r="1.05" fill="#25417e"/>
<circle cx="346.66" cy="327.16" r="1.05" fill="#25417e"/>
<circle cx="332.53" cy="326.27" r="1.05" fill="#25417e"/>
<circle cx="348.53" cy="324.73" r="1.05" fill="#25417e"/>
<circle cx="330.88" cy="326.43" r="1.05" fill="#25417e"/>
<circle cx="329.87" cy="327.20" r="1.05" fill="#25417e"/>
<circle cx="329.88" cy="326.78" r="1.05" fill="#25417e"/>
<circle cx="333.32" cy="327.08" r="1.05" fill="#25417e"/>
<circle cx="346.28" cy="326.02" r="1.05" fill="#25417e"/>
<circle cx="336.50" cy="325.35" r="1.05" fill="#25417e"/>
<circle cx="338.80" cy="326.55" r="1.05" fill="#25417e"/>
<circle cx="334.97" cy="326.67" r="1.05" fill="#25417e"/>
<circle cx="333.72" cy="327.49" r="1.05" fill="#25417e"/>
<circle cx="330.59" cy="324.48" r="1.05" fill="#25417e"/>
<circle cx="340.97" cy="326.25" r="1.05" fill="#25417e"/>
<circle cx="332.45" cy="324.91" r="1.05" fill="#25417e"/>
<circle cx="333.12" cy="326.99" r="1.05" fill="#25417e"/>
<circle cx="337.18" cy="326.60" r="1.05" fill="#25417e"/>
<circle cx="345.48" cy="324.53" r="1.05" fill="#25417e"/>
<circle cx="328.45" cy="324.86" r="1.05" fill="#25417e"/>
<circle cx="342.62" cy="327.54" r="1.05" fill="#25417e"/>
<circle cx="337.75" cy="324.77" r="1.05" fill="#25417e"/>
<circle cx="328.00" cy="325.96" r="1.05" fill="#25417e"/>
<circle cx="347.09" cy="326.62" r="1.05" fill="#25417e"/>
<circle cx="345.62" cy="325.05" r="1.05" fill="#25417e"/>
<circle cx="333.12" cy="324.46" r="1.05" fill="#25417e"/>
<circle cx="331.18" cy="327.40" r="1.05" fill="#25417e"/>
<circle cx="342.05" cy="326.19" r="1.05" fill="#25417e"/>
<circle cx="342.87" cy="324.58" r="1.05" fill="#25417e"/>
<circle cx="343.75" cy="325.74" r="1.05" fill="#25417e"/>
<circle cx="339.36" cy="326.41" r="1.05" fill="#25417e"/>
<circle cx="344.12" cy="327.53" r="1.05" fill="#25417e"/>
<circle cx="346.95" cy="327.09" r="1.05" fill="#25417e"/>
<circle cx="334.26" cy="325.75" r="1.05" fill="#25417e"/>
<circle cx="333.19" cy="327.36" r="1.05" fill="#25417e"/>
<circle cx="342.39" cy="325.78" r="1.05" fill="#25417e"/>
<circle cx="329.45" cy="327.39" r="1.05" fill="#25417e"/>
<circle cx="340.01" cy="326.18" r="1.05" fill="#25417e"/>
<circle cx="332.61" cy="326.63" r="1.05" fill="#25417e"/>
<circle cx="328.22" cy="325.91" r="1.05" fill="#25417e"/>
<circle cx="337.49" cy="326.90" r="1.05" fill="#25417e"/>
<circle cx="341.28" cy="324.51" r="1.05" fill="#25417e"/>
<circle cx="337.79" cy="324.82" r="1.05" fill="#25417e"/>
<circle cx="333.09" cy="327.09" r="1.05" fill="#25417e"/>
<circle cx="342.52" cy="324.50" r="1.05" fill="#25417e"/>
<circle cx="328.45" cy="326.88" r="1.05" fill="#25417e"/>
<circle cx="341.89" cy="326.27" r="1.05" fill="#25417e"/>
<circle cx="333.30" cy="326.53" r="1.05" fill="#25417e"/>
<circle cx="347.06" cy="325.66" r="1.05" fill="#25417e"/>
<circle cx="328.70" cy="327.11" r="1.05" fill="#25417e"/>
<circle cx="336.66" cy="326.79" r="1.05" fill="#25417e"/>
<circle cx="332.08" cy="325.61" r="1.05" fill="#25417e"/>
<circle cx="343.23" cy="325.17" r="1.05" fill="#25417e"/>
<circle cx="332.23" cy="326.25" r="1.05" fill="#25417e"/>
<circle cx="334.42" cy="324.47" r="1.05" fill="#25417e"/>
<circle cx="332.75" cy="325.08" r="1.05" fill="#25417e"/>
<circle cx="343.67" cy="327.12" r="1.05" fill="#25417e"/>
<circle cx="347.61" cy="326.92" r="1.05" fill="#25417e"/>
<circle cx="331.86" cy="326.28" r="1.05" fill="#25417e"/>
<circle cx="336.59" cy="327.12" r="1.05" fill="#25417e"/>
<circle cx="347.54" cy="325.67" r="1.05" fill="#25417e"/>
<circle cx="336.11" cy="327.31" r="1.05" fill="#25417e"/>
<circle cx="348.07" cy="327.15" r="1.05" fill="#25417e"/>
<circle cx="329.07" cy="327.32" r="1.05" fill="#25417e"/>
<circle cx="336.10" cy="327.50" r="1.05" fill="#25417e"/>
<circle cx="346.20" cy="324.76" r="1.05" fill="#25417e"/>
<circle cx="348.55" cy="325.42" r="1.05" fill="#25417e"/>
<circle cx="334.78" cy="324.63" r="1.05" fill="#25417e"/>
<circle cx="347.28" cy="327.22" r="1.05" fill="#25417e"/>
<circle cx="328.66" cy="325.37" r="1.05" fill="#25417e"/>
<circle cx="335.80" cy="325.68" r="1.05" fill="#25417e"/>
<circle cx="334.83" cy="326.68" r="1.05" fill="#25417e"/>
<circle cx="328.06" cy="327.26" r="1.05" fill="#25417e"/>
<circle cx="335.24" cy="326.96" r="1.05" fill="#25417e"/>
<circle cx="330.55" cy="324.53" r="1.05" fill="#25417e"/>
<circle cx="332.27" cy="324.49" r="1.05" fill="#25417e"/>
<circle cx="344.92" cy="326.73" r="1.05" fill="#25417e"/>
<circle cx="336.91" cy="325.07" r="1.05" fill="#25417e"/>
<circle cx="337.75" cy="327.52" r="1.05" fill="#25417e"/>
<circle cx="346.94" cy="326.68" r="1.05" fill="#25417e"/>
<circle cx="335.50" cy="327.20" r="1.05" fill="#25417e"/>
<circle cx="328.62" cy="324.77" r="1.05" fill="#25417e"/>
<circle cx="344.72" cy="326.56" r="1.05" fill="#25417e"/>
<circle cx="328.84" cy="325.29" r="1.05" fill="#25417e"/>
<circle cx="329.29" cy="327.54" r="1.05" fill="#25417e"/>
<circle cx="333.29" cy="324.67" r="1.05" fill="#25417e"/>
<circle cx="346.51" cy="325.36" r="1.05" fill="#25417e"/>
<circle cx="333.61" cy="326.79" r="1.05" fill="#25417e"/>
<circle cx="340.71" cy="324.52" r="1.05" fill="#25417e"/>
<circle cx="342.76" cy="327.01" r="1.05" fill="#25417e"/>
<circle cx="333.68" cy="326.85" r="1.05" fill="#25417e"/>
<circle cx="343.57" cy="327.58" r="1.05" fill="#25417e"/>
<circle cx="341.06" cy="324.69" r="1.05" fill="#25417e"/>
<circle cx="328.50" cy="324.58" r="1.05" fill="#25417e"/>
<circle cx="337.79" cy="327.09" r="1.05" fill="#25417e"/>
<circle cx="347.65" cy="324.52" r="1.05" fill="#25417e"/>
<circle cx="333.17" cy="326.64" r="1.05" fill="#25417e"/>
<circle cx="338.17" cy="326.50" r="1.05" fill="#25417e"/>
<circle cx="331.77" cy="324.64" r="1.05" fill="#25417e"/>
<circle cx="343.21" cy="325.15" r="1.05" fill="#25417e"/>
<circle cx="343.92" cy="325.07" r="1.05" fill="#25417e"/>
<circle cx="334.75" cy="325.89" r="1.05" fill="#25417e"/>
<circle cx="335.45" cy="326.84" r="1.05" fill="#25417e"/>
<circle cx="329.63" cy="325.23" r="1.05" fill="#25417e"/>
<circle cx="343.51" cy="327.19" r="1.05" fill="#25417e"/>
<circle cx="329.33" cy="327.05" r="1.05" fill="#25417e"/>
<circle cx="339.38" cy="327.54" r="1.05" fill="#25417e"/>
<circle cx="348.19" cy="326.83" r="1.05" fill="#25417e"/>
<circle cx="348.35" cy="324.82" r="1.05" fill="#25417e"/>
<circle cx="329.73" cy="327.00" r="1.05" fill="#25417e"/>
<circle cx="338.27" cy="327.43" r="1.05" fill="#25417e"/>
<circle cx="337.21" cy="325.51" r="1.05" fill="#25417e"/>
<circle cx="336.59" cy="327.09" r="1.05" fill="#25417e"/>
<circle cx="341.89" cy="325.84" r="1.05" fill="#25417e"/>
<circle cx="345.45" cy="325.36" r="1.05" fill="#25417e"/>
<circle cx="330.50" cy="325.68" r="1.05" fill="#25417e"/>
<circle cx="334.05" cy="324.99" r="1.05" fill="#25417e"/>
<circle cx="335.68" cy="326.03" r="1.05" fill="#25417e"/>
<circle cx="332.10" cy="325.40" r="1.05" fill="#25417e"/>
<circle cx="333.05" cy="327.05" r="1.05" fill="#25417e"/>
<circle cx="346.21" cy="327.30" r="1.05" fill="#25417e"/>
<circle cx="334.72" cy="325.99" r="1.05" fill="#25417e"/>
<circle cx="348.44" cy="326.61" r="1.05" fill="#25417e"/>
<circle cx="332.77" cy="326.24" r="1.05" fill="#25417e"/>
<circle cx="341.46" cy="325.12" r="1.05" fill="#25417e"/>
<circle cx="330.11" cy="324.38" r="1.05" fill="#25417e"/>
<circle cx="344.55" cy="320.89" r="1.05" fill="#25417e"/>
<circle cx="346.42" cy="317.56" r="1.05" fill="#25417e"/>
<circle cx="334.26" cy="324.45" r="1.05" fill="#25417e"/>
<circle cx="332.22" cy="323.87" r="1.05" fill="#25417e"/>
<circle cx="339.93" cy="316.32" r="1.05" fill="#25417e"/>
<circle cx="335.80" cy="316.72" r="1.05" fill="#25417e"/>
<circle cx="337.30" cy="317.32" r="1.05" fill="#25417e"/>
<circle cx="343.74" cy="322.74" r="1.05" fill="#25417e"/>
<circle cx="330.57" cy="316.57" r="1.05" fill="#25417e"/>
<circle cx="340.65" cy="319.81" r="1.05" fill="#25417e"/>
<circle cx="335.73" cy="323.09" r="1.05" fill="#25417e"/>
<circle cx="332.50" cy="323.70" r="1.05" fill="#25417e"/>
<circle cx="340.25" cy="322.78" r="1.05" fill="#25417e"/>
<circle cx="332.49" cy="319.31" r="1.05" fill="#25417e"/>
<circle cx="334.91" cy="324.64" r="1.05" fill="#25417e"/>
<circle cx="332.13" cy="319.06" r="1.05" fill="#25417e"/>
<circle cx="332.49" cy="322.30" r="1.05" fill="#25417e"/>
<circle cx="339.24" cy="317.98" r="1.05" fill="#25417e"/>
<circle cx="330.49" cy="324.29" r="1.05" fill="#25417e"/>
<circle cx="339.28" cy="321.59" r="1.05" fill="#25417e"/>
<circle cx="330.29" cy="319.42" r="1.05" fill="#25417e"/>
<circle cx="342.13" cy="323.52" r="1.05" fill="#25417e"/>
<circle cx="334.05" cy="321.46" r="1.05" fill="#25417e"/>
<circle cx="347.18" cy="322.34" r="1.05" fill="#25417e"/>
<circle cx="339.60" cy="322.30" r="1.05" fill="#25417e"/>
<circle cx="336.66" cy="321.92" r="1.05" fill="#25417e"/>
<circle cx="348.03" cy="317.34" r="1.05" fill="#25417e"/>
<circle cx="332.37" cy="321.86" r="1.05" fill="#25417e"/>
<circle cx="332.49" cy="318.61" r="1.05" fill="#25417e"/>
<circle cx="346.17" cy="324.67" r="1.05" fill="#25417e"/>
<circle cx="344.58" cy="321.34" r="1.05" fill="#25417e"/>
<circle cx="345.80" cy="321.49" r="1.05" fill="#25417e"/>
<circle cx="331.69" cy="321.01" r="1.05" fill="#25417e"/>
<circle cx="339.31" cy="324.62" r="1.05" fill="#25417e"/>
<circle cx="346.33" cy="319.41" r="1.05" fill="#25417e"/>
<circle cx="340.70" cy="324.10" r="1.05" fill="#25417e"/>
<circle cx="338.39" cy="321.80" r="1.05" fill="#25417e"/>
<circle cx="334.05" cy="323.66" r="1.05" fill="#25417e"/>
<circle cx="346.64" cy="320.48" r="1.05" fill="#25417e"/>
<circle cx="338.11" cy="323.95" r="1.05" fill="#25417e"/>
<circle cx="347.45" cy="317.90" r="1.05" fill="#25417e"/>
<circle cx="330.98" cy="323.25" r="1.05" fill="#25417e"/>
<circle cx="347.62" cy="316.60" r="1.05" fill="#25417e"/>
<circle cx="329.55" cy="320.82" r="1.05" fill="#25417e"/>
<circle cx="336.10" cy="316.76" r="1.05" fill="#25417e"/>
<circle cx="340.66" cy="316.97" r="1.05" fill="#25417e"/>
<circle cx="331.64" cy="317.71" r="1.05" fill="#25417e"/>
<circle cx="332.85" cy="318.07" r="1.05" fill="#25417e"/>
<circle cx="345.09" cy="321.51" r="1.05" fill="#25417e"/>
<circle cx="332.09" cy="317.67" r="1.05" fill="#25417e"/>
<circle cx="336.34" cy="323.08" r="1.05" fill="#25417e"/>
<circle cx="336.02" cy="320.51" r="1.05" fill="#25417e"/>
<circle cx="333.34" cy="323.84" r="1.05" fill="#25417e"/>
<circle cx="346.09" cy="318.64" r="1.05" fill="#25417e"/>
<circle cx="339.52" cy="324.44" r="1.05" fill="#25417e"/>
<circle cx="329.25" cy="318.33" r="1.05" fill="#25417e"/>
<circle cx="330.81" cy="317.58" r="1.05" fill="#25417e"/>
<circle cx="339.28" cy="319.78" r="1.05" fill="#25417e"/>
<circle cx="334.50" cy="319.53" r="1.05" fill="#25417e"/>
<circle cx="339.92" cy="321.37" r="1.05" fill="#25417e"/>
<circle cx="341.41" cy="321.32" r="1.05" fill="#25417e"/>
<circle cx="337.09" cy="321.14" r="1.05" fill="#25417e"/>
<circle cx="340.63" cy="324.56" r="1.05" fill="#25417e"/>
<circle cx="333.11" cy="320.76" r="1.05" fill="#25417e"/>
<circle cx="343.79" cy="318.28" r="1.05" fill="#25417e"/>
<circle cx="332.02" cy="321.04" r="1.05" fill="#25417e"/>
<circle cx="330.60" cy="320.91" r="1.05" fill="#25417e"/>
<circle cx="336.94" cy="323.80" r="1.05" fill="#25417e"/>
<circle cx="337.16" cy="324.08" r="1.05" fill="#25417e"/>
<circle cx="329.30" cy="320.58" r="1.05" fill="#25417e"/>
<circle cx="330.36" cy="311.82" r="1.05" fill="#25417e"/>
<circle cx="343.58" cy="310.52" r="1.05" fill="#25417e"/>
<circle cx="329.83" cy="313.40" r="1.05" fill="#25417e"/>
<circle cx="335.98" cy="313.49" r="1.05" fill="#25417e"/>
<circle cx="331.39" cy="307.43" r="1.05" fill="#25417e"/>
<circle cx="347.73" cy="308.79" r="1.05" fill="#25417e"/>
<circle cx="344.28" cy="310.54" r="1.05" fill="#25417e"/>
<circle cx="347.45" cy="316.86" r="1.05" fill="#25417e"/>
<circle cx="346.98" cy="313.64" r="1.05" fill="#25417e"/>
<circle cx="331.94" cy="307.94" r="1.05" fill="#25417e"/>
<circle cx="346.48" cy="309.76" r="1.05" fill="#25417e"/>
<circle cx="335.47" cy="317.89" r="1.05" fill="#25417e"/>
<circle cx="331.82" cy="310.21" r="1.05" fill="#25417e"/>
<circle cx="334.02" cy="308.22" r="1.05" fill="#25417e"/>
<circle cx="331.53" cy="309.38" r="1.05" fill="#25417e"/>
<circle cx="346.28" cy="313.51" r="1.05" fill="#25417e"/>
<circle cx="359.86" cy="327.14" r="1.05" fill="#25417e"/>
<circle cx="360.98" cy="326.31" r="1.05" fill="#25417e"/>
<circle cx="358.24" cy="327.53" r="1.05" fill="#25417e"/>
<circle cx="373.33" cy="327.26" r="1.05" fill="#25417e"/>
<circle cx="372.51" cy="325.77" r="1.05" fill="#25417e"/>
<circle cx="370.30" cy="327.24" r="1.05" fill="#25417e"/>
<circle cx="365.21" cy="327.36" r="1.05" fill="#25417e"/>
<circle cx="361.80" cy="325.91" r="1.05" fill="#25417e"/>
<circle cx="365.70" cy="325.13" r="1.05" fill="#25417e"/>
<circle cx="372.25" cy="326.08" r="1.05" fill="#25417e"/>
<circle cx="374.46" cy="327.39" r="1.05" fill="#25417e"/>
<circle cx="362.49" cy="325.93" r="1.05" fill="#25417e"/>
<circle cx="359.90" cy="325.38" r="1.05" fill="#25417e"/>
<circle cx="366.15" cy="324.73" r="1.05" fill="#25417e"/>
<circle cx="369.89" cy="326.73" r="1.05" fill="#25417e"/>
<circle cx="358.14" cy="326.50" r="1.05" fill="#25417e"/>
<circle cx="355.57" cy="325.56" r="1.05" fill="#25417e"/>
<circle cx="359.67" cy="325.31" r="1.05" fill="#25417e"/>
<circle cx="374.28" cy="325.90" r="1.05" fill="#25417e"/>
<circle cx="367.87" cy="326.06" r="1.05" fill="#25417e"/>
<circle cx="354.64" cy="326.87" r="1.05" fill="#25417e"/>
<circle cx="357.59" cy="327.53" r="1.05" fill="#25417e"/>
<circle cx="363.24" cy="325.97" r="1.05" fill="#25417e"/>
<circle cx="372.51" cy="326.29" r="1.05" fill="#25417e"/>
<circle cx="359.15" cy="327.33" r="1.05" fill="#25417e"/>
<circle cx="355.05" cy="325.85" r="1.05" fill="#25417e"/>
<circle cx="388.00" cy="327.58" r="1.05" fill="#25417e"/>
<circle cx="388.04" cy="327.38" r="1.05" fill="#25417e"/>
<circle cx="392.57" cy="327.10" r="1.05" fill="#25417e"/>
<circle cx="384.98" cy="326.05" r="1.05" fill="#25417e"/>
<circle cx="390.40" cy="325.94" r="1.05" fill="#25417e"/>
<circle cx="399.63" cy="327.32" r="1.05" fill="#25417e"/>
<circle cx="383.89" cy="327.05" r="1.05" fill="#25417e"/>
<circle cx="393.66" cy="327.41" r="1.05" fill="#25417e"/>
<circle cx="396.54" cy="325.14" r="1.05" fill="#25417e"/>
<circle cx="386.18" cy="326.62" r="1.05" fill="#25417e"/>
<circle cx="393.80" cy="327.57" r="1.05" fill="#25417e"/>
<circle cx="387.91" cy="326.14" r="1.05" fill="#25417e"/>
<circle cx="389.78" cy="325.88" r="1.05" fill="#25417e"/>
<circle cx="395.57" cy="324.92" r="1.05" fill="#25417e"/>
<circle cx="398.97" cy="327.04" r="1.05" fill="#25417e"/>
<circle cx="391.53" cy="327.51" r="1.05" fill="#25417e"/>
<circle cx="385.65" cy="326.60" r="1.05" fill="#25417e"/>
<circle cx="396.48" cy="327.48" r="1.05" fill="#25417e"/>
<circle cx="391.92" cy="327.57" r="1.05" fill="#25417e"/>
<circle cx="383.75" cy="324.90" r="1.05" fill="#25417e"/>
<circle cx="393.06" cy="327.16" r="1.05" fill="#25417e"/>
<circle cx="393.73" cy="326.31" r="1.05" fill="#25417e"/>
<circle cx="384.39" cy="325.33" r="1.05" fill="#25417e"/>
<circle cx="386.91" cy="326.88" r="1.05" fill="#25417e"/>
<circle cx="424.99" cy="327.50" r="1.05" fill="#25417e"/>
<circle cx="421.51" cy="325.43" r="1.05" fill="#25417e"/>
<circle cx="424.09" cy="327.57" r="1.05" fill="#25417e"/>
<circle cx="416.51" cy="325.56" r="1.05" fill="#25417e"/>
<circle cx="416.25" cy="325.57" r="1.05" fill="#25417e"/>
<circle cx="409.31" cy="327.10" r="1.05" fill="#25417e"/>
<circle cx="407.98" cy="327.08" r="1.05" fill="#25417e"/>
<circle cx="422.19" cy="326.80" r="1.05" fill="#25417e"/>
<circle cx="424.11" cy="325.72" r="1.05" fill="#25417e"/>
<circle cx="412.52" cy="325.67" r="1.05" fill="#25417e"/>
<circle cx="415.92" cy="326.16" r="1.05" fill="#25417e"/>
<circle cx="417.66" cy="325.41" r="1.05" fill="#25417e"/>
<circle cx="420.04" cy="326.99" r="1.05" fill="#25417e"/>
<circle cx="411.54" cy="324.82" r="1.05" fill="#25417e"/>
<circle cx="407.50" cy="325.11" r="1.05" fill="#25417e"/>
<circle cx="411.92" cy="327.01" r="1.05" fill="#25417e"/>
<circle cx="452.39" cy="325.56" r="1.05" fill="#25417e"/>
<circle cx="440.04" cy="325.55" r="1.05" fill="#25417e"/>
<circle cx="440.07" cy="325.11" r="1.05" fill="#25417e"/>
<circle cx="451.65" cy="327.06" r="1.05" fill="#25417e"/>
<circle cx="447.36" cy="325.92" r="1.05" fill="#25417e"/>
<circle cx="453.08" cy="325.81" r="1.05" fill="#25417e"/>
<circle cx="450.29" cy="326.42" r="1.05" fill="#25417e"/>
<circle cx="450.65" cy="325.71" r="1.05" fill="#25417e"/>
<circle cx="447.99" cy="326.51" r="1.05" fill="#25417e"/>
<circle cx="439.66" cy="326.11" r="1.05" fill="#25417e"/>
<circle cx="445.95" cy="327.13" r="1.05" fill="#25417e"/>
<circle cx="451.72" cy="327.45" r="1.05" fill="#25417e"/>
<circle cx="434.04" cy="327.30" r="1.05" fill="#25417e"/>
<circle cx="452.08" cy="327.38" r="1.05" fill="#25417e"/>
<circle cx="462.64" cy="326.78" r="1.05" fill="#25417e"/>
<circle cx="460.63" cy="327.54" r="1.05" fill="#25417e"/>
<circle cx="472.48" cy="325.73" r="1.05" fill="#25417e"/>
<circle cx="474.54" cy="325.71" r="1.05" fill="#25417e"/>
<circle cx="471.61" cy="327.47" r="1.05" fill="#25417e"/>
<circle cx="476.15" cy="326.73" r="1.05" fill="#25417e"/>
<circle cx="477.63" cy="325.31" r="1.05" fill="#25417e"/>
<circle cx="477.16" cy="327.47" r="1.05" fill="#25417e"/>
<circle cx="478.69" cy="324.99" r="1.05" fill="#25417e"/>
<circle cx="463.91" cy="327.38" r="1.05" fill="#25417e"/>
<circle cx="460.49" cy="327.37" r="1.05" fill="#25417e"/>
<circle cx="476.04" cy="325.22" r="1.05" fill="#25417e"/>
<circle cx="476.30" cy="325.91" r="1.05" fill="#25417e"/>
<circle cx="465.55" cy="325.92" r="1.05" fill="#25417e"/>
<circle cx="488.06" cy="327.40" r="1.05" fill="#25417e"/>
<circle cx="490.20" cy="325.52" r="1.05" fill="#25417e"/>
<circle cx="494.58" cy="326.85" r="1.05" fill="#25417e"/>
<circle cx="491.23" cy="327.55" r="1.05" fill="#25417e"/>
<circle cx="500.42" cy="326.95" r="1.05" fill="#25417e"/>
<circle cx="492.52" cy="326.71" r="1.05" fill="#25417e"/>
<circle cx="496.17" cy="324.82" r="1.05" fill="#25417e"/>
<circle cx="498.47" cy="325.21" r="1.05" fill="#25417e"/>
<circle cx="494.36" cy="327.54" r="1.05" fill="#25417e"/>
<circle cx="501.56" cy="326.52" r="1.05" fill="#25417e"/>
<circle cx="500.19" cy="326.77" r="1.05" fill="#25417e"/>
<circle cx="490.43" cy="326.21" r="1.05" fill="#25417e"/>
<circle cx="487.92" cy="325.17" r="1.05" fill="#25417e"/>
<circle cx="489.51" cy="325.31" r="1.05" fill="#25417e"/>
<circle cx="490.14" cy="327.58" r="1.05" fill="#25417e"/>
<circle cx="505.66" cy="325.50" r="1.05" fill="#25417e"/>
<circle cx="495.92" cy="327.58" r="1.05" fill="#25417e"/>
<circle cx="502.04" cy="326.35" r="1.05" fill="#25417e"/>
<circle cx="495.99" cy="327.20" r="1.05" fill="#25417e"/>
<circle cx="502.74" cy="326.77" r="1.05" fill="#25417e"/>
<line x1="302.50" y1="326.3" x2="321.00" y2="326.3" stroke="#000" stroke-width="1.1"/>
<line x1="328.80" y1="325.5" x2="347.30" y2="325.5" stroke="#000" stroke-width="1.1"/>
<line x1="355.10" y1="325.2" x2="373.60" y2="325.2" stroke="#000" stroke-width="1.1"/>
<line x1="381.40" y1="324.8" x2="399.90" y2="324.8" stroke="#000" stroke-width="1.1"/>
<line x1="407.70" y1="326.2" x2="426.20" y2="326.2" stroke="#000" stroke-width="1.1"/>
<line x1="434.00" y1="325.3" x2="452.50" y2="325.3" stroke="#000" stroke-width="1.1"/>
<line x1="460.30" y1="325.8" x2="478.80" y2="325.8" stroke="#000" stroke-width="1.1"/>
<line x1="486.60" y1="325.3" x2="505.10" y2="325.3" stroke="#000" stroke-width="1.1"/>
<text x="7.3" y="390.7" class="p">D</text>
<line x1="33.7" y1="397" x2="33.7" y2="495.3" stroke="#111" stroke-width="1.25"/>
<line x1="30.700000000000003" y1="491.15" x2="33.7" y2="491.15" stroke="#111" stroke-width="1"/>
<text x="27.60" y="493.50" font-size="6.5" text-anchor="end" class="t">0</text>
<line x1="30.700000000000003" y1="468.65" x2="33.7" y2="468.65" stroke="#111" stroke-width="1"/>
<text x="27.60" y="471.00" font-size="6.5" text-anchor="end" class="t">20</text>
<line x1="30.700000000000003" y1="446.15" x2="33.7" y2="446.15" stroke="#111" stroke-width="1"/>
<text x="27.60" y="448.50" font-size="6.5" text-anchor="end" class="t">40</text>
<line x1="30.700000000000003" y1="423.65" x2="33.7" y2="423.65" stroke="#111" stroke-width="1"/>
<text x="27.60" y="426.00" font-size="6.5" text-anchor="end" class="t">60</text>
<line x1="30.700000000000003" y1="401.15" x2="33.7" y2="401.15" stroke="#111" stroke-width="1"/>
<text x="27.60" y="403.50" font-size="6.5" text-anchor="end" class="t">80</text>
<line x1="33.1" y1="495.25" x2="115.4" y2="495.25" stroke="#111" stroke-width="1.3"/>
<text x="0" y="0" font-size="7.8" text-anchor="middle" class="t tt" transform="translate(13.5,446.0) rotate(-90)" textLength="39.0" lengthAdjust="spacingAndGlyphs">Individuals (%)</text>
<rect x="42.80" y="427.02" width="12.4" height="63.73" fill="#2e4b7c"/>
<rect x="68.50" y="419.15" width="12.4" height="71.60" fill="#2e4b7c"/>
<rect x="94.10" y="409.02" width="12.4" height="81.72" fill="#2e4b7c"/>
<text x="49.00" y="504.90" font-size="6.6" text-anchor="middle" class="t">80-82</text>
<text x="74.70" y="504.90" font-size="6.6" text-anchor="middle" class="t">83-85</text>
<text x="100.30" y="504.90" font-size="6.6" text-anchor="middle" class="t">86+</text>
<text x="74.50" y="516.60" font-size="7.8" text-anchor="middle" class="t tt" textLength="32.7" lengthAdjust="spacingAndGlyphs">Age in years</text>
<text x="132.3" y="390.7" class="p">E</text>
<line x1="170.6" y1="396.5" x2="170.6" y2="495.2" stroke="#111" stroke-width="1.25"/>
<line x1="170.0" y1="495.2" x2="253.2" y2="495.2" stroke="#111" stroke-width="1.3"/>
<line x1="182.60" y1="495.2" x2="182.60" y2="498" stroke="#111" stroke-width="1"/>
<text x="182.60" y="507.60" font-size="6.5" text-anchor="middle" class="t">0.9</text>
<line x1="205.20" y1="495.2" x2="205.20" y2="498" stroke="#111" stroke-width="1"/>
<text x="205.20" y="507.60" font-size="6.5" text-anchor="middle" class="t">1.0</text>
<line x1="227.80" y1="495.2" x2="227.80" y2="498" stroke="#111" stroke-width="1"/>
<text x="227.80" y="507.60" font-size="6.5" text-anchor="middle" class="t">1.1</text>
<line x1="250.40" y1="495.2" x2="250.40" y2="498" stroke="#111" stroke-width="1"/>
<text x="250.40" y="507.60" font-size="6.5" text-anchor="middle" class="t">1.2</text>
<line x1="205.20" y1="396.5" x2="205.20" y2="494.6" stroke="#111" stroke-width="1.1" stroke-dasharray="2.5,1.3"/>
<line x1="195.3" y1="408.1" x2="221.6" y2="408.1" stroke="#506ea3" stroke-width="1.15"/>
<circle cx="208.0" cy="408.1" r="1.25" fill="#13286a"/>
<text x="167.40" y="410.45" font-size="6.5" text-anchor="end" class="t">DNMT3A</text>
<line x1="207.3" y1="427.0" x2="236.1" y2="427.0" stroke="#506ea3" stroke-width="1.15"/>
<circle cx="221.3" cy="427.0" r="1.25" fill="#13286a"/>
<text x="167.40" y="429.35" font-size="6.5" text-anchor="end" class="t">TET2</text>
<line x1="193.2" y1="446.1" x2="243.8" y2="446.1" stroke="#506ea3" stroke-width="1.15"/>
<circle cx="218.1" cy="446.1" r="1.25" fill="#13286a"/>
<text x="167.40" y="448.45" font-size="6.5" text-anchor="end" class="t">ASXL1</text>
<line x1="187.1" y1="465.2" x2="248" y2="465.2" stroke="#506ea3" stroke-width="1.15"/>
<circle cx="217.1" cy="465.2" r="1.25" fill="#13286a"/>
<text x="167.40" y="467.55" font-size="6.5" text-anchor="end" class="t">Spliceosome</text>
<line x1="174.2" y1="484.1" x2="214.7" y2="484.1" stroke="#506ea3" stroke-width="1.15"/>
<circle cx="194.0" cy="484.1" r="1.25" fill="#13286a"/>
<text x="167.40" y="486.45" font-size="6.5" text-anchor="end" class="t">Others</text>
<text x="211.90" y="519.20" font-size="7.8" text-anchor="middle" class="t tt" textLength="34.3" lengthAdjust="spacingAndGlyphs">OR (95% CI)</text>
<text x="271.3" y="390.7" class="p">F</text>
<line x1="301.3" y1="397" x2="301.3" y2="495.2" stroke="#111" stroke-width="1.25"/>
<line x1="298.3" y1="491.10" x2="301.3" y2="491.10" stroke="#111" stroke-width="1"/>
<text x="295.20" y="493.45" font-size="6.5" text-anchor="end" class="t">0</text>
<line x1="298.3" y1="468.60" x2="301.3" y2="468.60" stroke="#111" stroke-width="1"/>
<text x="295.20" y="470.95" font-size="6.5" text-anchor="end" class="t">25</text>
<line x1="298.3" y1="446.10" x2="301.3" y2="446.10" stroke="#111" stroke-width="1"/>
<text x="295.20" y="448.45" font-size="6.5" text-anchor="end" class="t">50</text>
<line x1="298.3" y1="423.60" x2="301.3" y2="423.60" stroke="#111" stroke-width="1"/>
<text x="295.20" y="425.95" font-size="6.5" text-anchor="end" class="t">75</text>
<line x1="298.3" y1="401.10" x2="301.3" y2="401.10" stroke="#111" stroke-width="1"/>
<text x="295.20" y="403.45" font-size="6.5" text-anchor="end" class="t">100</text>
<line x1="300.7" y1="495.2" x2="383" y2="495.2" stroke="#111" stroke-width="1.3"/>
<text x="0" y="0" font-size="7.8" text-anchor="middle" class="t tt" transform="translate(277.4,446.3) rotate(-90)" textLength="44.5" lengthAdjust="spacingAndGlyphs">Highest VAF (%)</text>
<circle cx="314.50" cy="441.60" r="1.05" fill="#25417e"/>
<circle cx="320.70" cy="443.50" r="1.05" fill="#25417e"/>
<circle cx="323.00" cy="442.40" r="1.05" fill="#25417e"/>
<circle cx="323.50" cy="444.10" r="1.05" fill="#25417e"/>
<circle cx="318.80" cy="446.10" r="1.05" fill="#25417e"/>
<circle cx="315.80" cy="447.70" r="1.05" fill="#25417e"/>
<circle cx="320.10" cy="450.30" r="1.05" fill="#25417e"/>
<circle cx="311.10" cy="451.40" r="1.05" fill="#25417e"/>
<circle cx="311.30" cy="453.10" r="1.05" fill="#25417e"/>
<circle cx="316.70" cy="455.20" r="1.05" fill="#25417e"/>
<circle cx="317.90" cy="455.20" r="1.05" fill="#25417e"/>
<circle cx="323.00" cy="453.10" r="1.05" fill="#25417e"/>
<circle cx="322.40" cy="454.80" r="1.05" fill="#25417e"/>
<circle cx="321.80" cy="456.50" r="1.05" fill="#25417e"/>
<circle cx="320.40" cy="457.70" r="1.05" fill="#25417e"/>
<circle cx="309.90" cy="459.40" r="1.05" fill="#25417e"/>
<circle cx="313.30" cy="459.40" r="1.05" fill="#25417e"/>
<circle cx="323.50" cy="458.80" r="1.05" fill="#25417e"/>
<circle cx="324.10" cy="461.30" r="1.05" fill="#25417e"/>
<circle cx="309.40" cy="462.80" r="1.05" fill="#25417e"/>
<circle cx="319.00" cy="462.80" r="1.05" fill="#25417e"/>
<circle cx="320.10" cy="464.50" r="1.05" fill="#25417e"/>
<circle cx="317.90" cy="465.60" r="1.05" fill="#25417e"/>
<circle cx="316.70" cy="467.90" r="1.05" fill="#25417e"/>
<circle cx="316.20" cy="468.40" r="1.05" fill="#25417e"/>
<circle cx="309.40" cy="467.90" r="1.05" fill="#25417e"/>
<circle cx="309.40" cy="469.60" r="1.05" fill="#25417e"/>
<circle cx="313.90" cy="472.40" r="1.05" fill="#25417e"/>
<circle cx="320.10" cy="472.40" r="1.05" fill="#25417e"/>
<circle cx="323.50" cy="473.00" r="1.05" fill="#25417e"/>
<circle cx="337.10" cy="443.20" r="1.05" fill="#25417e"/>
<circle cx="341.50" cy="447.70" r="1.05" fill="#25417e"/>
<circle cx="344.50" cy="448.60" r="1.05" fill="#25417e"/>
<circle cx="349.00" cy="449.50" r="1.05" fill="#25417e"/>
<circle cx="334.90" cy="453.70" r="1.05" fill="#25417e"/>
<circle cx="336.60" cy="455.20" r="1.05" fill="#25417e"/>
<circle cx="344.00" cy="456.00" r="1.05" fill="#25417e"/>
<circle cx="346.20" cy="454.30" r="1.05" fill="#25417e"/>
<circle cx="347.90" cy="452.60" r="1.05" fill="#25417e"/>
<circle cx="347.90" cy="458.80" r="1.05" fill="#25417e"/>
<circle cx="342.60" cy="462.80" r="1.05" fill="#25417e"/>
<circle cx="336.60" cy="469.00" r="1.05" fill="#25417e"/>
<circle cx="344.50" cy="468.40" r="1.05" fill="#25417e"/>
<circle cx="349.60" cy="467.90" r="1.05" fill="#25417e"/>
<circle cx="367.50" cy="413.60" r="1.05" fill="#25417e"/>
<circle cx="364.70" cy="452.40" r="1.05" fill="#25417e"/>
<circle cx="367.10" cy="462.00" r="1.05" fill="#25417e"/>
<circle cx="372.80" cy="461.40" r="1.05" fill="#25417e"/>
<circle cx="362.40" cy="465.20" r="1.05" fill="#25417e"/>
<circle cx="361.40" cy="477.10" r="1.05" fill="#25417e"/>
<circle cx="365.00" cy="469.00" r="1.05" fill="#25417e"/>
<circle cx="372.00" cy="467.50" r="1.05" fill="#25417e"/>
<circle cx="374.00" cy="472.00" r="1.05" fill="#25417e"/>
<circle cx="370.00" cy="474.00" r="1.05" fill="#25417e"/>
<circle cx="324.13" cy="489.54" r="1.05" fill="#25417e"/>
<circle cx="311.59" cy="489.45" r="1.05" fill="#25417e"/>
<circle cx="316.47" cy="487.30" r="1.05" fill="#25417e"/>
<circle cx="318.85" cy="490.02" r="1.05" fill="#25417e"/>
<circle cx="321.45" cy="490.09" r="1.05" fill="#25417e"/>
<circle cx="321.44" cy="487.32" r="1.05" fill="#25417e"/>
<circle cx="314.02" cy="487.74" r="1.05" fill="#25417e"/>
<circle cx="314.69" cy="488.94" r="1.05" fill="#25417e"/>
<circle cx="309.38" cy="486.04" r="1.05" fill="#25417e"/>
<circle cx="308.33" cy="486.05" r="1.05" fill="#25417e"/>
<circle cx="312.43" cy="489.74" r="1.05" fill="#25417e"/>
<circle cx="316.52" cy="485.97" r="1.05" fill="#25417e"/>
<circle cx="323.10" cy="489.04" r="1.05" fill="#25417e"/>
<circle cx="315.83" cy="489.64" r="1.05" fill="#25417e"/>
<circle cx="320.88" cy="488.28" r="1.05" fill="#25417e"/>
<circle cx="319.02" cy="486.97" r="1.05" fill="#25417e"/>
<circle cx="313.52" cy="489.18" r="1.05" fill="#25417e"/>
<circle cx="322.40" cy="489.90" r="1.05" fill="#25417e"/>
<circle cx="320.66" cy="487.53" r="1.05" fill="#25417e"/>
<circle cx="315.45" cy="489.85" r="1.05" fill="#25417e"/>
<circle cx="317.86" cy="486.83" r="1.05" fill="#25417e"/>
<circle cx="315.85" cy="489.98" r="1.05" fill="#25417e"/>
<circle cx="311.99" cy="486.08" r="1.05" fill="#25417e"/>
<circle cx="313.09" cy="489.78" r="1.05" fill="#25417e"/>
<circle cx="322.41" cy="487.28" r="1.05" fill="#25417e"/>
<circle cx="310.58" cy="489.90" r="1.05" fill="#25417e"/>
<circle cx="313.52" cy="489.59" r="1.05" fill="#25417e"/>
<circle cx="310.67" cy="488.33" r="1.05" fill="#25417e"/>
<circle cx="311.16" cy="489.27" r="1.05" fill="#25417e"/>
<circle cx="320.43" cy="485.43" r="1.05" fill="#25417e"/>
<circle cx="324.45" cy="490.04" r="1.05" fill="#25417e"/>
<circle cx="314.51" cy="490.04" r="1.05" fill="#25417e"/>
<circle cx="321.57" cy="485.37" r="1.05" fill="#25417e"/>
<circle cx="315.38" cy="487.09" r="1.05" fill="#25417e"/>
<circle cx="318.87" cy="489.77" r="1.05" fill="#25417e"/>
<circle cx="311.45" cy="490.03" r="1.05" fill="#25417e"/>
<circle cx="308.48" cy="489.00" r="1.05" fill="#25417e"/>
<circle cx="321.51" cy="488.95" r="1.05" fill="#25417e"/>
<circle cx="316.51" cy="487.34" r="1.05" fill="#25417e"/>
<circle cx="315.87" cy="487.71" r="1.05" fill="#25417e"/>
<circle cx="318.28" cy="489.94" r="1.05" fill="#25417e"/>
<circle cx="320.64" cy="488.93" r="1.05" fill="#25417e"/>
<circle cx="315.30" cy="485.92" r="1.05" fill="#25417e"/>
<circle cx="320.78" cy="488.05" r="1.05" fill="#25417e"/>
<circle cx="311.83" cy="488.85" r="1.05" fill="#25417e"/>
<circle cx="323.04" cy="487.16" r="1.05" fill="#25417e"/>
<circle cx="319.94" cy="486.83" r="1.05" fill="#25417e"/>
<circle cx="319.59" cy="486.30" r="1.05" fill="#25417e"/>
<circle cx="315.71" cy="487.66" r="1.05" fill="#25417e"/>
<circle cx="318.71" cy="489.33" r="1.05" fill="#25417e"/>
<circle cx="315.12" cy="490.05" r="1.05" fill="#25417e"/>
<circle cx="320.17" cy="486.77" r="1.05" fill="#25417e"/>
<circle cx="312.20" cy="487.73" r="1.05" fill="#25417e"/>
<circle cx="315.73" cy="488.84" r="1.05" fill="#25417e"/>
<circle cx="314.94" cy="487.77" r="1.05" fill="#25417e"/>
<circle cx="323.90" cy="487.45" r="1.05" fill="#25417e"/>
<circle cx="319.16" cy="489.81" r="1.05" fill="#25417e"/>
<circle cx="314.59" cy="486.80" r="1.05" fill="#25417e"/>
<circle cx="324.66" cy="488.50" r="1.05" fill="#25417e"/>
<circle cx="317.25" cy="490.16" r="1.05" fill="#25417e"/>
<circle cx="321.35" cy="489.88" r="1.05" fill="#25417e"/>
<circle cx="316.83" cy="485.68" r="1.05" fill="#25417e"/>
<circle cx="317.78" cy="490.04" r="1.05" fill="#25417e"/>
<circle cx="320.24" cy="488.23" r="1.05" fill="#25417e"/>
<circle cx="318.90" cy="488.39" r="1.05" fill="#25417e"/>
<circle cx="316.87" cy="486.46" r="1.05" fill="#25417e"/>
<circle cx="324.21" cy="488.90" r="1.05" fill="#25417e"/>
<circle cx="319.67" cy="489.72" r="1.05" fill="#25417e"/>
<circle cx="321.02" cy="488.98" r="1.05" fill="#25417e"/>
<circle cx="324.83" cy="489.99" r="1.05" fill="#25417e"/>
<circle cx="308.87" cy="489.15" r="1.05" fill="#25417e"/>
<circle cx="314.77" cy="489.49" r="1.05" fill="#25417e"/>
<circle cx="315.10" cy="490.19" r="1.05" fill="#25417e"/>
<circle cx="319.91" cy="488.85" r="1.05" fill="#25417e"/>
<circle cx="312.46" cy="489.17" r="1.05" fill="#25417e"/>
<circle cx="320.65" cy="489.67" r="1.05" fill="#25417e"/>
<circle cx="316.97" cy="485.69" r="1.05" fill="#25417e"/>
<circle cx="321.69" cy="489.69" r="1.05" fill="#25417e"/>
<circle cx="311.55" cy="488.99" r="1.05" fill="#25417e"/>
<circle cx="321.26" cy="489.97" r="1.05" fill="#25417e"/>
<circle cx="318.81" cy="486.59" r="1.05" fill="#25417e"/>
<circle cx="317.57" cy="488.61" r="1.05" fill="#25417e"/>
<circle cx="324.48" cy="489.67" r="1.05" fill="#25417e"/>
<circle cx="318.89" cy="489.16" r="1.05" fill="#25417e"/>
<circle cx="321.94" cy="486.53" r="1.05" fill="#25417e"/>
<circle cx="312.96" cy="488.61" r="1.05" fill="#25417e"/>
<circle cx="310.05" cy="488.19" r="1.05" fill="#25417e"/>
<circle cx="314.00" cy="486.43" r="1.05" fill="#25417e"/>
<circle cx="312.50" cy="486.32" r="1.05" fill="#25417e"/>
<circle cx="312.26" cy="489.06" r="1.05" fill="#25417e"/>
<circle cx="311.10" cy="488.82" r="1.05" fill="#25417e"/>
<circle cx="320.31" cy="490.20" r="1.05" fill="#25417e"/>
<circle cx="312.11" cy="489.46" r="1.05" fill="#25417e"/>
<circle cx="316.15" cy="489.38" r="1.05" fill="#25417e"/>
<circle cx="318.86" cy="488.81" r="1.05" fill="#25417e"/>
<circle cx="314.13" cy="487.55" r="1.05" fill="#25417e"/>
<circle cx="322.60" cy="485.77" r="1.05" fill="#25417e"/>
<circle cx="322.14" cy="490.13" r="1.05" fill="#25417e"/>
<circle cx="321.39" cy="485.93" r="1.05" fill="#25417e"/>
<circle cx="322.20" cy="489.94" r="1.05" fill="#25417e"/>
<circle cx="308.16" cy="487.71" r="1.05" fill="#25417e"/>
<circle cx="324.27" cy="490.19" r="1.05" fill="#25417e"/>
<circle cx="312.20" cy="487.57" r="1.05" fill="#25417e"/>
<circle cx="310.35" cy="490.04" r="1.05" fill="#25417e"/>
<circle cx="321.25" cy="489.64" r="1.05" fill="#25417e"/>
<circle cx="310.53" cy="489.19" r="1.05" fill="#25417e"/>
<circle cx="321.52" cy="485.94" r="1.05" fill="#25417e"/>
<circle cx="323.23" cy="489.86" r="1.05" fill="#25417e"/>
<circle cx="321.34" cy="487.85" r="1.05" fill="#25417e"/>
<circle cx="323.28" cy="487.49" r="1.05" fill="#25417e"/>
<circle cx="322.33" cy="486.74" r="1.05" fill="#25417e"/>
<circle cx="319.82" cy="489.77" r="1.05" fill="#25417e"/>
<circle cx="320.66" cy="488.29" r="1.05" fill="#25417e"/>
<circle cx="323.08" cy="488.76" r="1.05" fill="#25417e"/>
<circle cx="312.45" cy="488.15" r="1.05" fill="#25417e"/>
<circle cx="310.30" cy="489.64" r="1.05" fill="#25417e"/>
<circle cx="308.91" cy="488.49" r="1.05" fill="#25417e"/>
<circle cx="310.38" cy="488.62" r="1.05" fill="#25417e"/>
<circle cx="316.47" cy="488.50" r="1.05" fill="#25417e"/>
<circle cx="322.74" cy="488.24" r="1.05" fill="#25417e"/>
<circle cx="322.29" cy="486.59" r="1.05" fill="#25417e"/>
<circle cx="317.56" cy="482.28" r="1.05" fill="#25417e"/>
<circle cx="322.29" cy="479.27" r="1.05" fill="#25417e"/>
<circle cx="315.12" cy="483.50" r="1.05" fill="#25417e"/>
<circle cx="309.28" cy="473.89" r="1.05" fill="#25417e"/>
<circle cx="318.81" cy="479.74" r="1.05" fill="#25417e"/>
<circle cx="318.36" cy="486.53" r="1.05" fill="#25417e"/>
<circle cx="323.84" cy="478.99" r="1.05" fill="#25417e"/>
<circle cx="324.69" cy="484.04" r="1.05" fill="#25417e"/>
<circle cx="316.24" cy="481.67" r="1.05" fill="#25417e"/>
<circle cx="308.58" cy="475.12" r="1.05" fill="#25417e"/>
<circle cx="318.63" cy="478.38" r="1.05" fill="#25417e"/>
<circle cx="322.65" cy="483.94" r="1.05" fill="#25417e"/>
<circle cx="316.07" cy="483.61" r="1.05" fill="#25417e"/>
<circle cx="321.10" cy="481.46" r="1.05" fill="#25417e"/>
<circle cx="315.40" cy="485.29" r="1.05" fill="#25417e"/>
<circle cx="317.42" cy="482.89" r="1.05" fill="#25417e"/>
<circle cx="312.98" cy="476.45" r="1.05" fill="#25417e"/>
<circle cx="314.86" cy="476.43" r="1.05" fill="#25417e"/>
<circle cx="312.62" cy="481.77" r="1.05" fill="#25417e"/>
<circle cx="324.57" cy="481.73" r="1.05" fill="#25417e"/>
<circle cx="321.46" cy="479.45" r="1.05" fill="#25417e"/>
<circle cx="313.39" cy="484.03" r="1.05" fill="#25417e"/>
<circle cx="317.97" cy="484.39" r="1.05" fill="#25417e"/>
<circle cx="321.33" cy="479.77" r="1.05" fill="#25417e"/>
<circle cx="320.29" cy="486.49" r="1.05" fill="#25417e"/>
<circle cx="317.27" cy="475.35" r="1.05" fill="#25417e"/>
<circle cx="313.11" cy="486.45" r="1.05" fill="#25417e"/>
<circle cx="311.23" cy="486.59" r="1.05" fill="#25417e"/>
<circle cx="318.35" cy="474.66" r="1.05" fill="#25417e"/>
<circle cx="321.41" cy="479.39" r="1.05" fill="#25417e"/>
<circle cx="318.40" cy="474.88" r="1.05" fill="#25417e"/>
<circle cx="318.66" cy="480.06" r="1.05" fill="#25417e"/>
<circle cx="318.14" cy="478.75" r="1.05" fill="#25417e"/>
<circle cx="311.61" cy="479.01" r="1.05" fill="#25417e"/>
<circle cx="315.78" cy="479.25" r="1.05" fill="#25417e"/>
<circle cx="309.72" cy="477.61" r="1.05" fill="#25417e"/>
<circle cx="308.63" cy="485.56" r="1.05" fill="#25417e"/>
<circle cx="323.54" cy="477.40" r="1.05" fill="#25417e"/>
<circle cx="314.27" cy="479.43" r="1.05" fill="#25417e"/>
<circle cx="321.37" cy="476.53" r="1.05" fill="#25417e"/>
<circle cx="312.39" cy="480.91" r="1.05" fill="#25417e"/>
<circle cx="315.17" cy="484.36" r="1.05" fill="#25417e"/>
<circle cx="315.32" cy="484.17" r="1.05" fill="#25417e"/>
<circle cx="323.88" cy="479.66" r="1.05" fill="#25417e"/>
<circle cx="317.65" cy="486.43" r="1.05" fill="#25417e"/>
<circle cx="310.02" cy="486.49" r="1.05" fill="#25417e"/>
<circle cx="317.78" cy="476.75" r="1.05" fill="#25417e"/>
<circle cx="315.59" cy="474.71" r="1.05" fill="#25417e"/>
<circle cx="314.58" cy="486.58" r="1.05" fill="#25417e"/>
<circle cx="323.94" cy="480.45" r="1.05" fill="#25417e"/>
<circle cx="316.08" cy="473.49" r="1.05" fill="#25417e"/>
<circle cx="309.73" cy="483.02" r="1.05" fill="#25417e"/>
<circle cx="311.61" cy="479.61" r="1.05" fill="#25417e"/>
<circle cx="308.26" cy="485.80" r="1.05" fill="#25417e"/>
<circle cx="345.16" cy="490.20" r="1.05" fill="#25417e"/>
<circle cx="350.02" cy="489.99" r="1.05" fill="#25417e"/>
<circle cx="348.36" cy="490.07" r="1.05" fill="#25417e"/>
<circle cx="333.71" cy="489.97" r="1.05" fill="#25417e"/>
<circle cx="337.57" cy="487.18" r="1.05" fill="#25417e"/>
<circle cx="336.62" cy="487.09" r="1.05" fill="#25417e"/>
<circle cx="346.71" cy="490.14" r="1.05" fill="#25417e"/>
<circle cx="348.11" cy="487.22" r="1.05" fill="#25417e"/>
<circle cx="334.85" cy="487.11" r="1.05" fill="#25417e"/>
<circle cx="345.60" cy="487.73" r="1.05" fill="#25417e"/>
<circle cx="349.44" cy="488.65" r="1.05" fill="#25417e"/>
<circle cx="349.99" cy="489.57" r="1.05" fill="#25417e"/>
<circle cx="333.60" cy="487.19" r="1.05" fill="#25417e"/>
<circle cx="344.59" cy="490.19" r="1.05" fill="#25417e"/>
<circle cx="334.77" cy="486.54" r="1.05" fill="#25417e"/>
<circle cx="345.95" cy="489.34" r="1.05" fill="#25417e"/>
<circle cx="348.21" cy="489.87" r="1.05" fill="#25417e"/>
<circle cx="334.43" cy="488.52" r="1.05" fill="#25417e"/>
<circle cx="343.29" cy="489.10" r="1.05" fill="#25417e"/>
<circle cx="345.04" cy="488.76" r="1.05" fill="#25417e"/>
<circle cx="347.11" cy="489.93" r="1.05" fill="#25417e"/>
<circle cx="344.49" cy="489.12" r="1.05" fill="#25417e"/>
<circle cx="340.59" cy="487.73" r="1.05" fill="#25417e"/>
<circle cx="346.92" cy="489.01" r="1.05" fill="#25417e"/>
<circle cx="346.90" cy="485.65" r="1.05" fill="#25417e"/>
<circle cx="338.43" cy="488.09" r="1.05" fill="#25417e"/>
<circle cx="350.15" cy="490.13" r="1.05" fill="#25417e"/>
<circle cx="347.63" cy="487.28" r="1.05" fill="#25417e"/>
<circle cx="343.82" cy="489.25" r="1.05" fill="#25417e"/>
<circle cx="347.70" cy="485.42" r="1.05" fill="#25417e"/>
<circle cx="338.71" cy="487.89" r="1.05" fill="#25417e"/>
<circle cx="348.68" cy="488.81" r="1.05" fill="#25417e"/>
<circle cx="345.18" cy="489.06" r="1.05" fill="#25417e"/>
<circle cx="348.81" cy="487.89" r="1.05" fill="#25417e"/>
<circle cx="338.27" cy="486.61" r="1.05" fill="#25417e"/>
<circle cx="337.92" cy="490.20" r="1.05" fill="#25417e"/>
<circle cx="343.49" cy="488.84" r="1.05" fill="#25417e"/>
<circle cx="348.66" cy="486.55" r="1.05" fill="#25417e"/>
<circle cx="347.73" cy="490.16" r="1.05" fill="#25417e"/>
<circle cx="348.32" cy="486.58" r="1.05" fill="#25417e"/>
<circle cx="338.11" cy="488.06" r="1.05" fill="#25417e"/>
<circle cx="347.28" cy="486.31" r="1.05" fill="#25417e"/>
<circle cx="349.12" cy="487.40" r="1.05" fill="#25417e"/>
<circle cx="334.86" cy="489.19" r="1.05" fill="#25417e"/>
<circle cx="347.12" cy="488.16" r="1.05" fill="#25417e"/>
<circle cx="346.30" cy="489.76" r="1.05" fill="#25417e"/>
<circle cx="337.43" cy="485.75" r="1.05" fill="#25417e"/>
<circle cx="345.06" cy="487.86" r="1.05" fill="#25417e"/>
<circle cx="336.95" cy="488.63" r="1.05" fill="#25417e"/>
<circle cx="346.32" cy="489.56" r="1.05" fill="#25417e"/>
<circle cx="341.31" cy="486.71" r="1.05" fill="#25417e"/>
<circle cx="347.27" cy="490.07" r="1.05" fill="#25417e"/>
<circle cx="337.41" cy="486.84" r="1.05" fill="#25417e"/>
<circle cx="348.83" cy="488.02" r="1.05" fill="#25417e"/>
<circle cx="342.38" cy="486.08" r="1.05" fill="#25417e"/>
<circle cx="343.54" cy="488.57" r="1.05" fill="#25417e"/>
<circle cx="336.71" cy="489.79" r="1.05" fill="#25417e"/>
<circle cx="345.46" cy="489.82" r="1.05" fill="#25417e"/>
<circle cx="343.11" cy="489.12" r="1.05" fill="#25417e"/>
<circle cx="342.30" cy="488.94" r="1.05" fill="#25417e"/>
<circle cx="334.17" cy="489.92" r="1.05" fill="#25417e"/>
<circle cx="339.83" cy="485.27" r="1.05" fill="#25417e"/>
<circle cx="344.28" cy="490.03" r="1.05" fill="#25417e"/>
<circle cx="336.09" cy="486.74" r="1.05" fill="#25417e"/>
<circle cx="339.33" cy="487.92" r="1.05" fill="#25417e"/>
<circle cx="333.75" cy="488.35" r="1.05" fill="#25417e"/>
<circle cx="350.43" cy="490.17" r="1.05" fill="#25417e"/>
<circle cx="341.76" cy="486.21" r="1.05" fill="#25417e"/>
<circle cx="337.90" cy="488.09" r="1.05" fill="#25417e"/>
<circle cx="340.73" cy="486.80" r="1.05" fill="#25417e"/>
<circle cx="346.60" cy="485.64" r="1.05" fill="#25417e"/>
<circle cx="349.97" cy="486.53" r="1.05" fill="#25417e"/>
<circle cx="334.05" cy="489.57" r="1.05" fill="#25417e"/>
<circle cx="336.51" cy="489.75" r="1.05" fill="#25417e"/>
<circle cx="334.28" cy="490.08" r="1.05" fill="#25417e"/>
<circle cx="348.38" cy="488.14" r="1.05" fill="#25417e"/>
<circle cx="349.69" cy="488.66" r="1.05" fill="#25417e"/>
<circle cx="334.50" cy="485.90" r="1.05" fill="#25417e"/>
<circle cx="340.24" cy="487.91" r="1.05" fill="#25417e"/>
<circle cx="349.90" cy="489.99" r="1.05" fill="#25417e"/>
<circle cx="343.11" cy="489.55" r="1.05" fill="#25417e"/>
<circle cx="349.85" cy="487.66" r="1.05" fill="#25417e"/>
<circle cx="340.16" cy="487.49" r="1.05" fill="#25417e"/>
<circle cx="336.15" cy="488.71" r="1.05" fill="#25417e"/>
<circle cx="350.46" cy="485.50" r="1.05" fill="#25417e"/>
<circle cx="334.06" cy="489.68" r="1.05" fill="#25417e"/>
<circle cx="339.45" cy="489.56" r="1.05" fill="#25417e"/>
<circle cx="348.96" cy="485.95" r="1.05" fill="#25417e"/>
<circle cx="334.21" cy="486.41" r="1.05" fill="#25417e"/>
<circle cx="345.61" cy="486.75" r="1.05" fill="#25417e"/>
<circle cx="350.35" cy="487.63" r="1.05" fill="#25417e"/>
<circle cx="335.89" cy="490.13" r="1.05" fill="#25417e"/>
<circle cx="349.56" cy="486.95" r="1.05" fill="#25417e"/>
<circle cx="338.54" cy="487.44" r="1.05" fill="#25417e"/>
<circle cx="346.44" cy="487.95" r="1.05" fill="#25417e"/>
<circle cx="339.01" cy="486.14" r="1.05" fill="#25417e"/>
<circle cx="335.61" cy="484.84" r="1.05" fill="#25417e"/>
<circle cx="336.37" cy="482.09" r="1.05" fill="#25417e"/>
<circle cx="335.93" cy="485.03" r="1.05" fill="#25417e"/>
<circle cx="333.71" cy="479.07" r="1.05" fill="#25417e"/>
<circle cx="336.82" cy="478.40" r="1.05" fill="#25417e"/>
<circle cx="349.27" cy="486.51" r="1.05" fill="#25417e"/>
<circle cx="349.38" cy="485.20" r="1.05" fill="#25417e"/>
<circle cx="348.61" cy="475.71" r="1.05" fill="#25417e"/>
<circle cx="341.10" cy="485.89" r="1.05" fill="#25417e"/>
<circle cx="349.29" cy="486.19" r="1.05" fill="#25417e"/>
<circle cx="344.18" cy="476.16" r="1.05" fill="#25417e"/>
<circle cx="339.28" cy="482.49" r="1.05" fill="#25417e"/>
<circle cx="341.62" cy="476.52" r="1.05" fill="#25417e"/>
<circle cx="335.93" cy="479.88" r="1.05" fill="#25417e"/>
<circle cx="334.46" cy="485.19" r="1.05" fill="#25417e"/>
<circle cx="342.91" cy="478.46" r="1.05" fill="#25417e"/>
<circle cx="348.30" cy="485.86" r="1.05" fill="#25417e"/>
<circle cx="340.50" cy="484.74" r="1.05" fill="#25417e"/>
<circle cx="338.11" cy="485.77" r="1.05" fill="#25417e"/>
<circle cx="339.19" cy="476.21" r="1.05" fill="#25417e"/>
<circle cx="341.85" cy="485.67" r="1.05" fill="#25417e"/>
<circle cx="348.85" cy="484.18" r="1.05" fill="#25417e"/>
<circle cx="350.14" cy="486.08" r="1.05" fill="#25417e"/>
<circle cx="348.72" cy="486.42" r="1.05" fill="#25417e"/>
<circle cx="337.09" cy="479.22" r="1.05" fill="#25417e"/>
<circle cx="338.37" cy="482.15" r="1.05" fill="#25417e"/>
<circle cx="336.93" cy="484.83" r="1.05" fill="#25417e"/>
<circle cx="350.35" cy="483.63" r="1.05" fill="#25417e"/>
<circle cx="349.23" cy="473.14" r="1.05" fill="#25417e"/>
<circle cx="338.42" cy="486.19" r="1.05" fill="#25417e"/>
<circle cx="334.48" cy="475.15" r="1.05" fill="#25417e"/>
<circle cx="338.49" cy="478.24" r="1.05" fill="#25417e"/>
<circle cx="333.77" cy="473.53" r="1.05" fill="#25417e"/>
<circle cx="339.30" cy="476.81" r="1.05" fill="#25417e"/>
<circle cx="333.53" cy="485.89" r="1.05" fill="#25417e"/>
<circle cx="342.45" cy="476.35" r="1.05" fill="#25417e"/>
<circle cx="340.90" cy="485.52" r="1.05" fill="#25417e"/>
<circle cx="362.65" cy="485.89" r="1.05" fill="#25417e"/>
<circle cx="361.27" cy="488.06" r="1.05" fill="#25417e"/>
<circle cx="372.15" cy="489.82" r="1.05" fill="#25417e"/>
<circle cx="362.28" cy="487.23" r="1.05" fill="#25417e"/>
<circle cx="360.40" cy="490.09" r="1.05" fill="#25417e"/>
<circle cx="367.42" cy="487.85" r="1.05" fill="#25417e"/>
<circle cx="362.44" cy="489.49" r="1.05" fill="#25417e"/>
<circle cx="371.07" cy="487.83" r="1.05" fill="#25417e"/>
<circle cx="368.93" cy="486.58" r="1.05" fill="#25417e"/>
<circle cx="360.03" cy="489.75" r="1.05" fill="#25417e"/>
<circle cx="365.92" cy="487.10" r="1.05" fill="#25417e"/>
<circle cx="359.85" cy="487.17" r="1.05" fill="#25417e"/>
<circle cx="364.67" cy="486.59" r="1.05" fill="#25417e"/>
<circle cx="373.77" cy="486.38" r="1.05" fill="#25417e"/>
<circle cx="359.17" cy="488.49" r="1.05" fill="#25417e"/>
<circle cx="367.10" cy="485.90" r="1.05" fill="#25417e"/>
<circle cx="363.48" cy="486.17" r="1.05" fill="#25417e"/>
<circle cx="373.20" cy="489.80" r="1.05" fill="#25417e"/>
<circle cx="361.71" cy="489.10" r="1.05" fill="#25417e"/>
<circle cx="369.13" cy="489.08" r="1.05" fill="#25417e"/>
<circle cx="367.84" cy="490.20" r="1.05" fill="#25417e"/>
<circle cx="367.77" cy="488.73" r="1.05" fill="#25417e"/>
<circle cx="371.19" cy="489.99" r="1.05" fill="#25417e"/>
<circle cx="373.79" cy="486.55" r="1.05" fill="#25417e"/>
<circle cx="371.13" cy="489.30" r="1.05" fill="#25417e"/>
<circle cx="371.82" cy="489.03" r="1.05" fill="#25417e"/>
<circle cx="373.91" cy="490.13" r="1.05" fill="#25417e"/>
<circle cx="367.41" cy="485.59" r="1.05" fill="#25417e"/>
<circle cx="368.02" cy="488.38" r="1.05" fill="#25417e"/>
<circle cx="359.26" cy="488.25" r="1.05" fill="#25417e"/>
<circle cx="362.75" cy="485.49" r="1.05" fill="#25417e"/>
<circle cx="360.67" cy="489.81" r="1.05" fill="#25417e"/>
<circle cx="372.96" cy="489.58" r="1.05" fill="#25417e"/>
<circle cx="360.56" cy="490.17" r="1.05" fill="#25417e"/>
<circle cx="362.26" cy="487.31" r="1.05" fill="#25417e"/>
<circle cx="369.21" cy="490.19" r="1.05" fill="#25417e"/>
<circle cx="367.89" cy="488.03" r="1.05" fill="#25417e"/>
<circle cx="360.67" cy="487.28" r="1.05" fill="#25417e"/>
<circle cx="371.23" cy="486.19" r="1.05" fill="#25417e"/>
<circle cx="361.02" cy="490.15" r="1.05" fill="#25417e"/>
<circle cx="367.51" cy="488.48" r="1.05" fill="#25417e"/>
<circle cx="361.00" cy="489.47" r="1.05" fill="#25417e"/>
<circle cx="361.26" cy="488.92" r="1.05" fill="#25417e"/>
<circle cx="373.71" cy="487.95" r="1.05" fill="#25417e"/>
<circle cx="368.75" cy="489.92" r="1.05" fill="#25417e"/>
<circle cx="361.73" cy="487.01" r="1.05" fill="#25417e"/>
<circle cx="375.03" cy="486.48" r="1.05" fill="#25417e"/>
<circle cx="366.13" cy="489.00" r="1.05" fill="#25417e"/>
<circle cx="367.94" cy="486.39" r="1.05" fill="#25417e"/>
<circle cx="375.09" cy="488.97" r="1.05" fill="#25417e"/>
<circle cx="364.72" cy="486.81" r="1.05" fill="#25417e"/>
<circle cx="364.66" cy="489.62" r="1.05" fill="#25417e"/>
<circle cx="375.78" cy="488.78" r="1.05" fill="#25417e"/>
<circle cx="374.60" cy="486.63" r="1.05" fill="#25417e"/>
<circle cx="373.48" cy="486.56" r="1.05" fill="#25417e"/>
<circle cx="367.80" cy="490.14" r="1.05" fill="#25417e"/>
<circle cx="374.97" cy="485.56" r="1.05" fill="#25417e"/>
<circle cx="366.16" cy="489.58" r="1.05" fill="#25417e"/>
<circle cx="365.17" cy="487.71" r="1.05" fill="#25417e"/>
<circle cx="360.09" cy="488.29" r="1.05" fill="#25417e"/>
<circle cx="367.58" cy="488.79" r="1.05" fill="#25417e"/>
<circle cx="361.30" cy="490.19" r="1.05" fill="#25417e"/>
<circle cx="372.26" cy="485.47" r="1.05" fill="#25417e"/>
<circle cx="369.79" cy="485.71" r="1.05" fill="#25417e"/>
<circle cx="374.11" cy="486.60" r="1.05" fill="#25417e"/>
<circle cx="359.49" cy="486.08" r="1.05" fill="#25417e"/>
<circle cx="363.47" cy="487.66" r="1.05" fill="#25417e"/>
<circle cx="363.60" cy="487.43" r="1.05" fill="#25417e"/>
<circle cx="374.80" cy="488.22" r="1.05" fill="#25417e"/>
<circle cx="363.21" cy="487.78" r="1.05" fill="#25417e"/>
<circle cx="366.36" cy="488.34" r="1.05" fill="#25417e"/>
<circle cx="363.85" cy="485.61" r="1.05" fill="#25417e"/>
<circle cx="370.04" cy="489.36" r="1.05" fill="#25417e"/>
<circle cx="369.12" cy="489.99" r="1.05" fill="#25417e"/>
<circle cx="367.74" cy="485.57" r="1.05" fill="#25417e"/>
<circle cx="366.92" cy="489.51" r="1.05" fill="#25417e"/>
<circle cx="361.45" cy="488.27" r="1.05" fill="#25417e"/>
<circle cx="361.16" cy="489.98" r="1.05" fill="#25417e"/>
<circle cx="365.89" cy="489.41" r="1.05" fill="#25417e"/>
<circle cx="363.09" cy="489.43" r="1.05" fill="#25417e"/>
<circle cx="368.29" cy="486.25" r="1.05" fill="#25417e"/>
<circle cx="369.37" cy="476.21" r="1.05" fill="#25417e"/>
<circle cx="370.06" cy="480.79" r="1.05" fill="#25417e"/>
<circle cx="371.08" cy="485.38" r="1.05" fill="#25417e"/>
<circle cx="368.32" cy="482.38" r="1.05" fill="#25417e"/>
<circle cx="366.97" cy="480.12" r="1.05" fill="#25417e"/>
<circle cx="363.12" cy="484.26" r="1.05" fill="#25417e"/>
<circle cx="367.71" cy="485.19" r="1.05" fill="#25417e"/>
<circle cx="368.96" cy="483.40" r="1.05" fill="#25417e"/>
<circle cx="365.00" cy="486.58" r="1.05" fill="#25417e"/>
<circle cx="363.06" cy="475.80" r="1.05" fill="#25417e"/>
<circle cx="367.35" cy="480.99" r="1.05" fill="#25417e"/>
<circle cx="375.79" cy="484.55" r="1.05" fill="#25417e"/>
<circle cx="372.13" cy="484.43" r="1.05" fill="#25417e"/>
<circle cx="360.14" cy="485.75" r="1.05" fill="#25417e"/>
<circle cx="366.48" cy="475.62" r="1.05" fill="#25417e"/>
<circle cx="365.59" cy="486.39" r="1.05" fill="#25417e"/>
<circle cx="371.50" cy="482.66" r="1.05" fill="#25417e"/>
<circle cx="362.83" cy="486.11" r="1.05" fill="#25417e"/>
<circle cx="371.56" cy="473.92" r="1.05" fill="#25417e"/>
<circle cx="364.73" cy="485.78" r="1.05" fill="#25417e"/>
<circle cx="370.48" cy="483.78" r="1.05" fill="#25417e"/>
<circle cx="373.45" cy="480.07" r="1.05" fill="#25417e"/>
<circle cx="367.80" cy="476.55" r="1.05" fill="#25417e"/>
<line x1="307.80" y1="487.5" x2="325.50" y2="487.5" stroke="#000" stroke-width="1.2"/>
<line x1="333.30" y1="486.2" x2="351.00" y2="486.2" stroke="#000" stroke-width="1.2"/>
<line x1="358.80" y1="487.3" x2="376.50" y2="487.3" stroke="#000" stroke-width="1.2"/>
<text x="316.50" y="504.90" font-size="6.6" text-anchor="middle" class="t">80-82</text>
<text x="342.00" y="504.90" font-size="6.6" text-anchor="middle" class="t">83-85</text>
<text x="367.50" y="504.90" font-size="6.6" text-anchor="middle" class="t">86+</text>
<text x="341.70" y="516.60" font-size="7.8" text-anchor="middle" class="t tt" textLength="32.7" lengthAdjust="spacingAndGlyphs">Age in years</text>
<text x="398.7" y="390.7" class="p">G</text>
<line x1="421.3" y1="397" x2="421.3" y2="495.2" stroke="#111" stroke-width="1.25"/>
<line x1="418.3" y1="490.70" x2="421.3" y2="490.70" stroke="#111" stroke-width="1"/>
<text x="415.20" y="493.05" font-size="6.5" text-anchor="end" class="t">1</text>
<line x1="418.3" y1="475.70" x2="421.3" y2="475.70" stroke="#111" stroke-width="1"/>
<text x="415.20" y="478.05" font-size="6.5" text-anchor="end" class="t">2</text>
<line x1="418.3" y1="460.70" x2="421.3" y2="460.70" stroke="#111" stroke-width="1"/>
<text x="415.20" y="463.05" font-size="6.5" text-anchor="end" class="t">3</text>
<line x1="418.3" y1="445.70" x2="421.3" y2="445.70" stroke="#111" stroke-width="1"/>
<text x="415.20" y="448.05" font-size="6.5" text-anchor="end" class="t">4</text>
<line x1="418.3" y1="430.70" x2="421.3" y2="430.70" stroke="#111" stroke-width="1"/>
<text x="415.20" y="433.05" font-size="6.5" text-anchor="end" class="t">5</text>
<line x1="418.3" y1="415.70" x2="421.3" y2="415.70" stroke="#111" stroke-width="1"/>
<text x="415.20" y="418.05" font-size="6.5" text-anchor="end" class="t">6</text>
<line x1="418.3" y1="400.70" x2="421.3" y2="400.70" stroke="#111" stroke-width="1"/>
<text x="415.20" y="403.05" font-size="6.5" text-anchor="end" class="t">7</text>
<line x1="420.7" y1="495.15" x2="503.5" y2="495.15" stroke="#111" stroke-width="1.3"/>
<text x="0" y="0" font-size="7.8" text-anchor="middle" class="t tt" transform="translate(405.3,445.1) rotate(-90)" textLength="51.0" lengthAdjust="spacingAndGlyphs">Number of variants</text>
<path d="M436.54,400.70 L436.54,401.07 L436.54,401.45 L436.54,401.82 L436.54,402.20 L436.54,402.57 L436.54,402.95 L436.54,403.32 L436.54,403.70 L436.54,404.07 L436.54,404.45 L436.54,404.82 L436.54,405.20 L436.54,405.57 L436.54,405.95 L436.54,406.32 L436.54,406.70 L436.54,407.07 L436.54,407.45 L436.54,407.82 L436.54,408.20 L436.54,408.57 L436.54,408.95 L436.54,409.32 L436.54,409.70 L436.54,410.07 L436.54,410.45 L436.54,410.82 L436.54,411.20 L436.54,411.57 L436.54,411.95 L436.54,412.32 L436.54,412.70 L436.54,413.07 L436.54,413.45 L436.54,413.82 L436.54,414.20 L436.54,414.57 L436.54,414.95 L436.54,415.32 L436.54,415.70 L436.54,416.07 L436.54,416.45 L436.54,416.82 L436.54,417.20 L436.54,417.57 L436.54,417.95 L436.54,418.32 L436.54,418.70 L436.54,419.07 L436.54,419.45 L436.54,419.82 L436.54,420.20 L436.54,420.57 L436.54,420.95 L436.54,421.32 L436.54,421.70 L436.55,422.07 L436.55,422.45 L436.55,422.82 L436.56,423.20 L436.56,423.57 L436.57,423.95 L436.58,424.32 L436.59,424.70 L436.60,425.07 L436.62,425.45 L436.63,425.82 L436.65,426.20 L436.68,426.57 L436.70,426.95 L436.73,427.32 L436.75,427.70 L436.78,428.07 L436.80,428.45 L436.83,428.82 L436.85,429.20 L436.87,429.57 L436.88,429.95 L436.89,430.32 L436.89,430.70 L436.89,431.07 L436.88,431.45 L436.87,431.82 L436.85,432.20 L436.83,432.57 L436.80,432.95 L436.78,433.32 L436.75,433.70 L436.73,434.07 L436.70,434.45 L436.68,434.82 L436.65,435.20 L436.64,435.57 L436.62,435.95 L436.60,436.32 L436.59,436.70 L436.59,437.07 L436.58,437.45 L436.58,437.82 L436.59,438.20 L436.59,438.57 L436.61,438.95 L436.62,439.32 L436.65,439.70 L436.68,440.07 L436.72,440.45 L436.76,440.82 L436.81,441.20 L436.87,441.57 L436.94,441.95 L437.01,442.32 L437.09,442.70 L437.16,443.07 L437.24,443.45 L437.31,443.82 L437.37,444.20 L437.42,444.57 L437.46,444.95 L437.48,445.32 L437.49,445.70 L437.48,446.07 L437.46,446.45 L437.42,446.82 L437.37,447.20 L437.31,447.57 L437.24,447.95 L437.16,448.32 L437.09,448.70 L437.01,449.07 L436.94,449.45 L436.87,449.82 L436.81,450.20 L436.76,450.57 L436.71,450.95 L436.68,451.32 L436.64,451.70 L436.62,452.07 L436.60,452.45 L436.58,452.82 L436.57,453.20 L436.57,453.57 L436.57,453.95 L436.57,454.32 L436.58,454.70 L436.61,455.07 L436.64,455.45 L436.69,455.82 L436.76,456.20 L436.86,456.57 L436.99,456.95 L437.14,457.32 L437.33,457.70 L437.55,458.07 L437.78,458.45 L438.02,458.82 L438.24,459.20 L438.45,459.57 L438.60,459.95 L438.71,460.32 L438.74,460.70 L438.71,461.07 L438.60,461.45 L438.45,461.82 L438.24,462.20 L438.02,462.57 L437.78,462.95 L437.55,463.32 L437.33,463.70 L437.14,464.07 L436.99,464.45 L436.86,464.82 L436.76,465.20 L436.69,465.57 L436.64,465.95 L436.60,466.32 L436.58,466.70 L436.57,467.07 L436.57,467.45 L436.58,467.82 L436.59,468.20 L436.62,468.57 L436.66,468.95 L436.73,469.32 L436.82,469.70 L436.94,470.07 L437.12,470.45 L437.34,470.82 L437.63,471.20 L437.98,471.57 L438.40,471.95 L438.88,472.32 L439.42,472.70 L440.00,473.07 L440.60,473.45 L441.18,473.82 L441.72,474.20 L442.18,474.57 L442.54,474.95 L442.76,475.32 L442.84,475.70 L442.76,476.07 L442.54,476.45 L442.18,476.82 L441.72,477.20 L441.18,477.57 L440.60,477.95 L440.00,478.32 L439.42,478.70 L438.88,479.07 L438.40,479.45 L437.98,479.82 L437.63,480.20 L437.34,480.57 L437.12,480.95 L436.95,481.32 L436.82,481.70 L436.74,482.07 L436.68,482.45 L436.65,482.82 L436.65,483.20 L436.67,483.57 L436.73,483.95 L436.82,484.32 L436.95,484.70 L437.15,485.07 L437.43,485.45 L437.81,485.82 L438.29,486.20 L438.90,486.57 L439.64,486.95 L440.52,487.32 L441.50,487.70 L442.57,488.07 L443.68,488.45 L444.78,488.82 L445.80,489.20 L446.68,489.57 L447.36,489.95 L447.79,490.32 L447.94,490.70 L425.06,490.70 L425.21,490.32 L425.64,489.95 L426.32,489.57 L427.20,489.20 L428.22,488.82 L429.32,488.45 L430.43,488.07 L431.50,487.70 L432.48,487.32 L433.36,486.95 L434.10,486.57 L434.71,486.20 L435.19,485.82 L435.57,485.45 L435.85,485.07 L436.05,484.70 L436.18,484.32 L436.27,483.95 L436.33,483.57 L436.35,483.20 L436.35,482.82 L436.32,482.45 L436.26,482.07 L436.18,481.70 L436.05,481.32 L435.88,480.95 L435.66,480.57 L435.37,480.20 L435.02,479.82 L434.60,479.45 L434.12,479.07 L433.58,478.70 L433.00,478.32 L432.40,477.95 L431.82,477.57 L431.28,477.20 L430.82,476.82 L430.46,476.45 L430.24,476.07 L430.16,475.70 L430.24,475.32 L430.46,474.95 L430.82,474.57 L431.28,474.20 L431.82,473.82 L432.40,473.45 L433.00,473.07 L433.58,472.70 L434.12,472.32 L434.60,471.95 L435.02,471.57 L435.37,471.20 L435.66,470.82 L435.88,470.45 L436.06,470.07 L436.18,469.70 L436.27,469.32 L436.34,468.95 L436.38,468.57 L436.41,468.20 L436.42,467.82 L436.43,467.45 L436.43,467.07 L436.42,466.70 L436.40,466.32 L436.36,465.95 L436.31,465.57 L436.24,465.20 L436.14,464.82 L436.01,464.45 L435.86,464.07 L435.67,463.70 L435.45,463.32 L435.22,462.95 L434.98,462.57 L434.76,462.20 L434.55,461.82 L434.40,461.45 L434.29,461.07 L434.26,460.70 L434.29,460.32 L434.40,459.95 L434.55,459.57 L434.76,459.20 L434.98,458.82 L435.22,458.45 L435.45,458.07 L435.67,457.70 L435.86,457.32 L436.01,456.95 L436.14,456.57 L436.24,456.20 L436.31,455.82 L436.36,455.45 L436.39,455.07 L436.42,454.70 L436.43,454.32 L436.43,453.95 L436.43,453.57 L436.43,453.20 L436.42,452.82 L436.40,452.45 L436.38,452.07 L436.36,451.70 L436.32,451.32 L436.29,450.95 L436.24,450.57 L436.19,450.20 L436.13,449.82 L436.06,449.45 L435.99,449.07 L435.91,448.70 L435.84,448.32 L435.76,447.95 L435.69,447.57 L435.63,447.20 L435.58,446.82 L435.54,446.45 L435.52,446.07 L435.51,445.70 L435.52,445.32 L435.54,444.95 L435.58,444.57 L435.63,444.20 L435.69,443.82 L435.76,443.45 L435.84,443.07 L435.91,442.70 L435.99,442.32 L436.06,441.95 L436.13,441.57 L436.19,441.20 L436.24,440.82 L436.28,440.45 L436.32,440.07 L436.35,439.70 L436.38,439.32 L436.39,438.95 L436.41,438.57 L436.41,438.20 L436.42,437.82 L436.42,437.45 L436.41,437.07 L436.41,436.70 L436.40,436.32 L436.38,435.95 L436.36,435.57 L436.35,435.20 L436.32,434.82 L436.30,434.45 L436.27,434.07 L436.25,433.70 L436.22,433.32 L436.20,432.95 L436.17,432.57 L436.15,432.20 L436.13,431.82 L436.12,431.45 L436.11,431.07 L436.11,430.70 L436.11,430.32 L436.12,429.95 L436.13,429.57 L436.15,429.20 L436.17,428.82 L436.20,428.45 L436.22,428.07 L436.25,427.70 L436.27,427.32 L436.30,426.95 L436.32,426.57 L436.35,426.20 L436.37,425.82 L436.38,425.45 L436.40,425.07 L436.41,424.70 L436.42,424.32 L436.43,423.95 L436.44,423.57 L436.44,423.20 L436.45,422.82 L436.45,422.45 L436.45,422.07 L436.46,421.70 L436.46,421.32 L436.46,420.95 L436.46,420.57 L436.46,420.20 L436.46,419.82 L436.46,419.45 L436.46,419.07 L436.46,418.70 L436.46,418.32 L436.46,417.95 L436.46,417.57 L436.46,417.20 L436.46,416.82 L436.46,416.45 L436.46,416.07 L436.46,415.70 L436.46,415.32 L436.46,414.95 L436.46,414.57 L436.46,414.20 L436.46,413.82 L436.46,413.45 L436.46,413.07 L436.46,412.70 L436.46,412.32 L436.46,411.95 L436.46,411.57 L436.46,411.20 L436.46,410.82 L436.46,410.45 L436.46,410.07 L436.46,409.70 L436.46,409.32 L436.46,408.95 L436.46,408.57 L436.46,408.20 L436.46,407.82 L436.46,407.45 L436.46,407.07 L436.46,406.70 L436.46,406.32 L436.46,405.95 L436.46,405.57 L436.46,405.20 L436.46,404.82 L436.46,404.45 L436.46,404.07 L436.46,403.70 L436.46,403.32 L436.46,402.95 L436.46,402.57 L436.46,402.20 L436.46,401.82 L436.46,401.45 L436.46,401.07 L436.46,400.70 Z" fill="#2d4d8e" stroke="#000" stroke-width="0.62" stroke-linejoin="round"/>
<path d="M462.04,400.70 L462.04,401.07 L462.04,401.45 L462.04,401.82 L462.04,402.20 L462.04,402.57 L462.04,402.95 L462.04,403.32 L462.04,403.70 L462.04,404.07 L462.04,404.45 L462.04,404.82 L462.04,405.20 L462.04,405.57 L462.04,405.95 L462.04,406.32 L462.04,406.70 L462.04,407.07 L462.04,407.45 L462.04,407.82 L462.04,408.20 L462.04,408.57 L462.04,408.95 L462.04,409.32 L462.04,409.70 L462.04,410.07 L462.04,410.45 L462.04,410.82 L462.04,411.20 L462.04,411.57 L462.04,411.95 L462.04,412.32 L462.04,412.70 L462.04,413.07 L462.04,413.45 L462.04,413.82 L462.04,414.20 L462.04,414.57 L462.04,414.95 L462.04,415.32 L462.04,415.70 L462.04,416.07 L462.04,416.45 L462.04,416.82 L462.04,417.20 L462.04,417.57 L462.04,417.95 L462.04,418.32 L462.04,418.70 L462.04,419.07 L462.04,419.45 L462.04,419.82 L462.04,420.20 L462.04,420.57 L462.04,420.95 L462.04,421.32 L462.04,421.70 L462.05,422.07 L462.05,422.45 L462.05,422.82 L462.06,423.20 L462.06,423.57 L462.07,423.95 L462.08,424.32 L462.09,424.70 L462.10,425.07 L462.12,425.45 L462.13,425.82 L462.15,426.20 L462.18,426.57 L462.20,426.95 L462.23,427.32 L462.25,427.70 L462.28,428.07 L462.30,428.45 L462.33,428.82 L462.35,429.20 L462.37,429.57 L462.38,429.95 L462.39,430.32 L462.39,430.70 L462.39,431.07 L462.38,431.45 L462.37,431.82 L462.35,432.20 L462.33,432.57 L462.30,432.95 L462.28,433.32 L462.25,433.70 L462.23,434.07 L462.20,434.45 L462.18,434.82 L462.15,435.20 L462.14,435.57 L462.12,435.95 L462.10,436.32 L462.09,436.70 L462.09,437.07 L462.08,437.45 L462.08,437.82 L462.09,438.20 L462.09,438.57 L462.11,438.95 L462.12,439.32 L462.15,439.70 L462.18,440.07 L462.22,440.45 L462.26,440.82 L462.31,441.20 L462.37,441.57 L462.44,441.95 L462.51,442.32 L462.59,442.70 L462.66,443.07 L462.74,443.45 L462.81,443.82 L462.87,444.20 L462.92,444.57 L462.96,444.95 L462.98,445.32 L462.99,445.70 L462.98,446.07 L462.96,446.45 L462.92,446.82 L462.87,447.20 L462.81,447.57 L462.74,447.95 L462.66,448.32 L462.59,448.70 L462.51,449.07 L462.44,449.45 L462.37,449.82 L462.31,450.20 L462.26,450.57 L462.21,450.95 L462.18,451.32 L462.14,451.70 L462.12,452.07 L462.10,452.45 L462.08,452.82 L462.07,453.20 L462.07,453.57 L462.07,453.95 L462.08,454.32 L462.09,454.70 L462.12,455.07 L462.16,455.45 L462.22,455.82 L462.31,456.20 L462.43,456.57 L462.59,456.95 L462.78,457.32 L463.01,457.70 L463.28,458.07 L463.56,458.45 L463.85,458.82 L464.13,459.20 L464.38,459.57 L464.57,459.95 L464.70,460.32 L464.74,460.70 L464.70,461.07 L464.57,461.45 L464.38,461.82 L464.13,462.20 L463.85,462.57 L463.56,462.95 L463.28,463.32 L463.01,463.70 L462.78,464.07 L462.59,464.45 L462.43,464.82 L462.31,465.20 L462.22,465.57 L462.16,465.95 L462.12,466.32 L462.09,466.70 L462.07,467.07 L462.06,467.45 L462.06,467.82 L462.06,468.20 L462.06,468.57 L462.08,468.95 L462.10,469.32 L462.13,469.70 L462.18,470.07 L462.24,470.45 L462.34,470.82 L462.46,471.20 L462.62,471.57 L462.81,471.95 L463.05,472.32 L463.31,472.70 L463.61,473.07 L463.92,473.45 L464.23,473.82 L464.52,474.20 L464.78,474.57 L464.97,474.95 L465.10,475.32 L465.14,475.70 L465.10,476.07 L464.97,476.45 L464.78,476.82 L464.52,477.20 L464.23,477.57 L463.92,477.95 L463.61,478.32 L463.31,478.70 L463.05,479.07 L462.81,479.45 L462.62,479.82 L462.46,480.20 L462.34,480.57 L462.25,480.95 L462.18,481.32 L462.14,481.70 L462.11,482.07 L462.10,482.45 L462.10,482.82 L462.12,483.20 L462.15,483.57 L462.22,483.95 L462.31,484.32 L462.46,484.70 L462.66,485.07 L462.95,485.45 L463.33,485.82 L463.82,486.20 L464.44,486.57 L465.20,486.95 L466.08,487.32 L467.09,487.70 L468.17,488.07 L469.30,488.45 L470.42,488.82 L471.46,489.20 L472.36,489.57 L473.05,489.95 L473.49,490.32 L473.64,490.70 L450.36,490.70 L450.51,490.32 L450.95,489.95 L451.64,489.57 L452.54,489.20 L453.58,488.82 L454.70,488.45 L455.83,488.07 L456.91,487.70 L457.92,487.32 L458.80,486.95 L459.56,486.57 L460.18,486.20 L460.67,485.82 L461.05,485.45 L461.34,485.07 L461.54,484.70 L461.69,484.32 L461.78,483.95 L461.85,483.57 L461.88,483.20 L461.90,482.82 L461.90,482.45 L461.89,482.07 L461.86,481.70 L461.82,481.32 L461.75,480.95 L461.66,480.57 L461.54,480.20 L461.38,479.82 L461.19,479.45 L460.95,479.07 L460.69,478.70 L460.39,478.32 L460.08,477.95 L459.77,477.57 L459.48,477.20 L459.22,476.82 L459.03,476.45 L458.90,476.07 L458.86,475.70 L458.90,475.32 L459.03,474.95 L459.22,474.57 L459.48,474.20 L459.77,473.82 L460.08,473.45 L460.39,473.07 L460.69,472.70 L460.95,472.32 L461.19,471.95 L461.38,471.57 L461.54,471.20 L461.66,470.82 L461.76,470.45 L461.82,470.07 L461.87,469.70 L461.90,469.32 L461.92,468.95 L461.94,468.57 L461.94,468.20 L461.94,467.82 L461.94,467.45 L461.93,467.07 L461.91,466.70 L461.88,466.32 L461.84,465.95 L461.78,465.57 L461.69,465.20 L461.57,464.82 L461.41,464.45 L461.22,464.07 L460.99,463.70 L460.72,463.32 L460.44,462.95 L460.15,462.57 L459.87,462.20 L459.62,461.82 L459.43,461.45 L459.30,461.07 L459.26,460.70 L459.30,460.32 L459.43,459.95 L459.62,459.57 L459.87,459.20 L460.15,458.82 L460.44,458.45 L460.72,458.07 L460.99,457.70 L461.22,457.32 L461.41,456.95 L461.57,456.57 L461.69,456.20 L461.78,455.82 L461.84,455.45 L461.88,455.07 L461.91,454.70 L461.92,454.32 L461.93,453.95 L461.93,453.57 L461.93,453.20 L461.92,452.82 L461.90,452.45 L461.88,452.07 L461.86,451.70 L461.82,451.32 L461.79,450.95 L461.74,450.57 L461.69,450.20 L461.63,449.82 L461.56,449.45 L461.49,449.07 L461.41,448.70 L461.34,448.32 L461.26,447.95 L461.19,447.57 L461.13,447.20 L461.08,446.82 L461.04,446.45 L461.02,446.07 L461.01,445.70 L461.02,445.32 L461.04,444.95 L461.08,444.57 L461.13,444.20 L461.19,443.82 L461.26,443.45 L461.34,443.07 L461.41,442.70 L461.49,442.32 L461.56,441.95 L461.63,441.57 L461.69,441.20 L461.74,440.82 L461.78,440.45 L461.82,440.07 L461.85,439.70 L461.88,439.32 L461.89,438.95 L461.91,438.57 L461.91,438.20 L461.92,437.82 L461.92,437.45 L461.91,437.07 L461.91,436.70 L461.90,436.32 L461.88,435.95 L461.86,435.57 L461.85,435.20 L461.82,434.82 L461.80,434.45 L461.77,434.07 L461.75,433.70 L461.72,433.32 L461.70,432.95 L461.67,432.57 L461.65,432.20 L461.63,431.82 L461.62,431.45 L461.61,431.07 L461.61,430.70 L461.61,430.32 L461.62,429.95 L461.63,429.57 L461.65,429.20 L461.67,428.82 L461.70,428.45 L461.72,428.07 L461.75,427.70 L461.77,427.32 L461.80,426.95 L461.82,426.57 L461.85,426.20 L461.87,425.82 L461.88,425.45 L461.90,425.07 L461.91,424.70 L461.92,424.32 L461.93,423.95 L461.94,423.57 L461.94,423.20 L461.95,422.82 L461.95,422.45 L461.95,422.07 L461.96,421.70 L461.96,421.32 L461.96,420.95 L461.96,420.57 L461.96,420.20 L461.96,419.82 L461.96,419.45 L461.96,419.07 L461.96,418.70 L461.96,418.32 L461.96,417.95 L461.96,417.57 L461.96,417.20 L461.96,416.82 L461.96,416.45 L461.96,416.07 L461.96,415.70 L461.96,415.32 L461.96,414.95 L461.96,414.57 L461.96,414.20 L461.96,413.82 L461.96,413.45 L461.96,413.07 L461.96,412.70 L461.96,412.32 L461.96,411.95 L461.96,411.57 L461.96,411.20 L461.96,410.82 L461.96,410.45 L461.96,410.07 L461.96,409.70 L461.96,409.32 L461.96,408.95 L461.96,408.57 L461.96,408.20 L461.96,407.82 L461.96,407.45 L461.96,407.07 L461.96,406.70 L461.96,406.32 L461.96,405.95 L461.96,405.57 L461.96,405.20 L461.96,404.82 L461.96,404.45 L461.96,404.07 L461.96,403.70 L461.96,403.32 L461.96,402.95 L461.96,402.57 L461.96,402.20 L461.96,401.82 L461.96,401.45 L461.96,401.07 L461.96,400.70 Z" fill="#2d4d8e" stroke="#000" stroke-width="0.62" stroke-linejoin="round"/>
<path d="M487.44,400.70 L487.44,401.07 L487.44,401.45 L487.44,401.82 L487.44,402.20 L487.44,402.57 L487.44,402.95 L487.44,403.32 L487.44,403.70 L487.44,404.07 L487.44,404.45 L487.44,404.82 L487.44,405.20 L487.44,405.57 L487.44,405.95 L487.44,406.32 L487.44,406.70 L487.44,407.07 L487.44,407.45 L487.44,407.82 L487.44,408.20 L487.44,408.57 L487.44,408.95 L487.44,409.32 L487.44,409.70 L487.44,410.07 L487.44,410.45 L487.44,410.82 L487.44,411.20 L487.44,411.57 L487.44,411.95 L487.44,412.32 L487.44,412.70 L487.44,413.07 L487.44,413.45 L487.44,413.82 L487.44,414.20 L487.44,414.57 L487.44,414.95 L487.44,415.32 L487.44,415.70 L487.44,416.07 L487.44,416.45 L487.44,416.82 L487.44,417.20 L487.44,417.57 L487.44,417.95 L487.44,418.32 L487.44,418.70 L487.44,419.07 L487.44,419.45 L487.44,419.82 L487.44,420.20 L487.44,420.57 L487.44,420.95 L487.44,421.32 L487.44,421.70 L487.45,422.07 L487.45,422.45 L487.45,422.82 L487.46,423.20 L487.46,423.57 L487.47,423.95 L487.48,424.32 L487.49,424.70 L487.50,425.07 L487.52,425.45 L487.53,425.82 L487.55,426.20 L487.58,426.57 L487.60,426.95 L487.63,427.32 L487.65,427.70 L487.68,428.07 L487.70,428.45 L487.73,428.82 L487.75,429.20 L487.77,429.57 L487.78,429.95 L487.79,430.32 L487.79,430.70 L487.79,431.07 L487.78,431.45 L487.77,431.82 L487.75,432.20 L487.73,432.57 L487.70,432.95 L487.68,433.32 L487.65,433.70 L487.63,434.07 L487.60,434.45 L487.58,434.82 L487.55,435.20 L487.54,435.57 L487.52,435.95 L487.50,436.32 L487.49,436.70 L487.49,437.07 L487.48,437.45 L487.48,437.82 L487.49,438.20 L487.49,438.57 L487.51,438.95 L487.52,439.32 L487.55,439.70 L487.58,440.07 L487.62,440.45 L487.66,440.82 L487.71,441.20 L487.77,441.57 L487.84,441.95 L487.91,442.32 L487.99,442.70 L488.06,443.07 L488.14,443.45 L488.21,443.82 L488.27,444.20 L488.32,444.57 L488.36,444.95 L488.38,445.32 L488.39,445.70 L488.38,446.07 L488.36,446.45 L488.32,446.82 L488.27,447.20 L488.21,447.57 L488.14,447.95 L488.06,448.32 L487.99,448.70 L487.91,449.07 L487.84,449.45 L487.77,449.82 L487.71,450.20 L487.66,450.57 L487.61,450.95 L487.58,451.32 L487.54,451.70 L487.52,452.07 L487.50,452.45 L487.48,452.82 L487.47,453.20 L487.46,453.57 L487.46,453.95 L487.45,454.32 L487.45,454.70 L487.45,455.07 L487.46,455.45 L487.47,455.82 L487.48,456.20 L487.51,456.57 L487.55,456.95 L487.60,457.32 L487.68,457.70 L487.77,458.07 L487.87,458.45 L487.99,458.82 L488.11,459.20 L488.22,459.57 L488.31,459.95 L488.37,460.32 L488.39,460.70 L488.37,461.07 L488.31,461.45 L488.22,461.82 L488.11,462.20 L487.99,462.57 L487.87,462.95 L487.77,463.32 L487.68,463.70 L487.60,464.07 L487.55,464.45 L487.51,464.82 L487.48,465.20 L487.46,465.57 L487.45,465.95 L487.45,466.32 L487.45,466.70 L487.45,467.07 L487.46,467.45 L487.46,467.82 L487.48,468.20 L487.50,468.57 L487.54,468.95 L487.60,469.32 L487.67,469.70 L487.78,470.07 L487.92,470.45 L488.11,470.82 L488.35,471.20 L488.65,471.57 L489.00,471.95 L489.41,472.32 L489.87,472.70 L490.35,473.07 L490.86,473.45 L491.35,473.82 L491.80,474.20 L492.19,474.57 L492.49,474.95 L492.68,475.32 L492.74,475.70 L492.68,476.07 L492.49,476.45 L492.19,476.82 L491.80,477.20 L491.35,477.57 L490.86,477.95 L490.35,478.32 L489.87,478.70 L489.41,479.07 L489.00,479.45 L488.65,479.82 L488.35,480.20 L488.11,480.57 L487.93,480.95 L487.78,481.32 L487.68,481.70 L487.61,482.07 L487.56,482.45 L487.53,482.82 L487.53,483.20 L487.55,483.57 L487.59,483.95 L487.67,484.32 L487.78,484.70 L487.94,485.07 L488.17,485.45 L488.47,485.82 L488.87,486.20 L489.37,486.57 L489.97,486.95 L490.68,487.32 L491.49,487.70 L492.36,488.07 L493.26,488.45 L494.16,488.82 L494.99,489.20 L495.71,489.57 L496.27,489.95 L496.62,490.32 L496.74,490.70 L478.06,490.70 L478.18,490.32 L478.53,489.95 L479.09,489.57 L479.81,489.20 L480.64,488.82 L481.54,488.45 L482.44,488.07 L483.31,487.70 L484.12,487.32 L484.83,486.95 L485.43,486.57 L485.93,486.20 L486.33,485.82 L486.63,485.45 L486.86,485.07 L487.02,484.70 L487.13,484.32 L487.21,483.95 L487.25,483.57 L487.27,483.20 L487.27,482.82 L487.24,482.45 L487.19,482.07 L487.12,481.70 L487.02,481.32 L486.87,480.95 L486.69,480.57 L486.45,480.20 L486.15,479.82 L485.80,479.45 L485.39,479.07 L484.93,478.70 L484.45,478.32 L483.94,477.95 L483.45,477.57 L483.00,477.20 L482.61,476.82 L482.31,476.45 L482.12,476.07 L482.06,475.70 L482.12,475.32 L482.31,474.95 L482.61,474.57 L483.00,474.20 L483.45,473.82 L483.94,473.45 L484.45,473.07 L484.93,472.70 L485.39,472.32 L485.80,471.95 L486.15,471.57 L486.45,471.20 L486.69,470.82 L486.88,470.45 L487.02,470.07 L487.13,469.70 L487.20,469.32 L487.26,468.95 L487.30,468.57 L487.32,468.20 L487.34,467.82 L487.34,467.45 L487.35,467.07 L487.35,466.70 L487.35,466.32 L487.35,465.95 L487.34,465.57 L487.32,465.20 L487.29,464.82 L487.25,464.45 L487.20,464.07 L487.12,463.70 L487.03,463.32 L486.93,462.95 L486.81,462.57 L486.69,462.20 L486.58,461.82 L486.49,461.45 L486.43,461.07 L486.41,460.70 L486.43,460.32 L486.49,459.95 L486.58,459.57 L486.69,459.20 L486.81,458.82 L486.93,458.45 L487.03,458.07 L487.12,457.70 L487.20,457.32 L487.25,456.95 L487.29,456.57 L487.32,456.20 L487.33,455.82 L487.34,455.45 L487.35,455.07 L487.35,454.70 L487.35,454.32 L487.34,453.95 L487.34,453.57 L487.33,453.20 L487.32,452.82 L487.30,452.45 L487.28,452.07 L487.26,451.70 L487.22,451.32 L487.19,450.95 L487.14,450.57 L487.09,450.20 L487.03,449.82 L486.96,449.45 L486.89,449.07 L486.81,448.70 L486.74,448.32 L486.66,447.95 L486.59,447.57 L486.53,447.20 L486.48,446.82 L486.44,446.45 L486.42,446.07 L486.41,445.70 L486.42,445.32 L486.44,444.95 L486.48,444.57 L486.53,444.20 L486.59,443.82 L486.66,443.45 L486.74,443.07 L486.81,442.70 L486.89,442.32 L486.96,441.95 L487.03,441.57 L487.09,441.20 L487.14,440.82 L487.18,440.45 L487.22,440.07 L487.25,439.70 L487.28,439.32 L487.29,438.95 L487.31,438.57 L487.31,438.20 L487.32,437.82 L487.32,437.45 L487.31,437.07 L487.31,436.70 L487.30,436.32 L487.28,435.95 L487.26,435.57 L487.25,435.20 L487.22,434.82 L487.20,434.45 L487.17,434.07 L487.15,433.70 L487.12,433.32 L487.10,432.95 L487.07,432.57 L487.05,432.20 L487.03,431.82 L487.02,431.45 L487.01,431.07 L487.01,430.70 L487.01,430.32 L487.02,429.95 L487.03,429.57 L487.05,429.20 L487.07,428.82 L487.10,428.45 L487.12,428.07 L487.15,427.70 L487.17,427.32 L487.20,426.95 L487.22,426.57 L487.25,426.20 L487.27,425.82 L487.28,425.45 L487.30,425.07 L487.31,424.70 L487.32,424.32 L487.33,423.95 L487.34,423.57 L487.34,423.20 L487.35,422.82 L487.35,422.45 L487.35,422.07 L487.36,421.70 L487.36,421.32 L487.36,420.95 L487.36,420.57 L487.36,420.20 L487.36,419.82 L487.36,419.45 L487.36,419.07 L487.36,418.70 L487.36,418.32 L487.36,417.95 L487.36,417.57 L487.36,417.20 L487.36,416.82 L487.36,416.45 L487.36,416.07 L487.36,415.70 L487.36,415.32 L487.36,414.95 L487.36,414.57 L487.36,414.20 L487.36,413.82 L487.36,413.45 L487.36,413.07 L487.36,412.70 L487.36,412.32 L487.36,411.95 L487.36,411.57 L487.36,411.20 L487.36,410.82 L487.36,410.45 L487.36,410.07 L487.36,409.70 L487.36,409.32 L487.36,408.95 L487.36,408.57 L487.36,408.20 L487.36,407.82 L487.36,407.45 L487.36,407.07 L487.36,406.70 L487.36,406.32 L487.36,405.95 L487.36,405.57 L487.36,405.20 L487.36,404.82 L487.36,404.45 L487.36,404.07 L487.36,403.70 L487.36,403.32 L487.36,402.95 L487.36,402.57 L487.36,402.20 L487.36,401.82 L487.36,401.45 L487.36,401.07 L487.36,400.70 Z" fill="#2d4d8e" stroke="#000" stroke-width="0.62" stroke-linejoin="round"/>
<rect x="435.10" y="489.6" width="2.8" height="2.8" fill="#000"/>
<rect x="460.60" y="489.6" width="2.8" height="2.8" fill="#000"/>
<rect x="486.00" y="489.6" width="2.8" height="2.8" fill="#000"/>
<text x="436.50" y="504.90" font-size="6.6" text-anchor="middle" class="t">80-82</text>
<text x="462.00" y="504.90" font-size="6.6" text-anchor="middle" class="t">83-85</text>
<text x="487.40" y="504.90" font-size="6.6" text-anchor="middle" class="t">86+</text>
<text x="462.00" y="516.60" font-size="7.8" text-anchor="middle" class="t tt" textLength="32.7" lengthAdjust="spacingAndGlyphs">Age in years</text>
</svg></body></html>
